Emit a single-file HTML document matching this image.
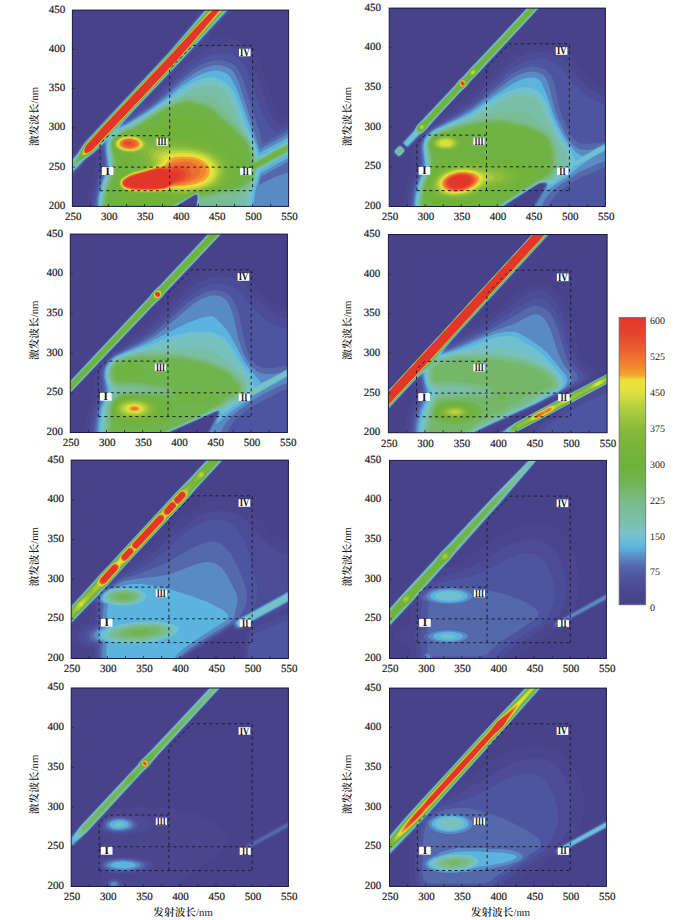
<!DOCTYPE html><html><head><meta charset="utf-8"><style>html,body{margin:0;padding:0;background:#fff;overflow:hidden;width:700px;height:920px}
svg{display:block;text-rendering:geometricPrecision}
.tl{font-family:"Liberation Serif","Noto Serif CJK SC",serif;font-size:11px;fill:#1a1a1a;stroke:#1a1a1a;stroke-width:0.2px}
.cl{font-family:"Liberation Serif","Noto Serif CJK SC",serif;font-size:10px;fill:#222}
.rl{font-family:"Liberation Serif",serif;font-size:11.2px;font-weight:bold;fill:#111;text-anchor:middle}
.al,.xl{font-family:"Liberation Serif","Noto Serif CJK SC",serif;font-size:10.7px;fill:#1a1a1a}</style></head><body><svg width="700" height="920" viewBox="0 0 700 920"><defs><clipPath id="c0"><rect width="216.2" height="196.3"/></clipPath><clipPath id="c1"><rect width="216.2" height="198.4"/></clipPath><clipPath id="c2"><rect width="217.1" height="198.4"/></clipPath><clipPath id="c3"><rect width="218.7" height="198.2"/></clipPath><clipPath id="c4"><rect width="217.2" height="198.4"/></clipPath><clipPath id="c5"><rect width="216.9" height="198.1"/></clipPath><clipPath id="c6"><rect width="217.2" height="198.5"/></clipPath><clipPath id="c7"><rect width="216.9" height="198.3"/></clipPath><filter id="sm" color-interpolation-filters="sRGB" filterUnits="userSpaceOnUse" x="-5" y="-5" width="230" height="210"><feGaussianBlur stdDeviation="0.6"/></filter><linearGradient id="cbg" x1="0" y1="1" x2="0" y2="0"><stop offset="0" stop-color="#48428a"/><stop offset="0.01667" stop-color="#49448c"/><stop offset="0.03333" stop-color="#49468e"/><stop offset="0.05" stop-color="#4a4890"/><stop offset="0.06667" stop-color="#4b4c95"/><stop offset="0.08333" stop-color="#4d519b"/><stop offset="0.1" stop-color="#4e55a0"/><stop offset="0.1167" stop-color="#515ea5"/><stop offset="0.1333" stop-color="#5468aa"/><stop offset="0.15" stop-color="#5779b7"/><stop offset="0.1667" stop-color="#5a8ac4"/><stop offset="0.1833" stop-color="#5a9fd1"/><stop offset="0.2" stop-color="#5ab4dd"/><stop offset="0.2167" stop-color="#64bbda"/><stop offset="0.2333" stop-color="#70c0d2"/><stop offset="0.25" stop-color="#7ac3c9"/><stop offset="0.2667" stop-color="#79c1bd"/><stop offset="0.2833" stop-color="#78c0b0"/><stop offset="0.3" stop-color="#79bfa7"/><stop offset="0.3167" stop-color="#7abd9e"/><stop offset="0.3333" stop-color="#7abc95"/><stop offset="0.35" stop-color="#7abb8c"/><stop offset="0.3667" stop-color="#79ba81"/><stop offset="0.3833" stop-color="#77b976"/><stop offset="0.4" stop-color="#75b769"/><stop offset="0.4167" stop-color="#72b55a"/><stop offset="0.4333" stop-color="#70b44e"/><stop offset="0.45" stop-color="#6fb348"/><stop offset="0.4667" stop-color="#6fb342"/><stop offset="0.4833" stop-color="#6eb23c"/><stop offset="0.5" stop-color="#70b23c"/><stop offset="0.5167" stop-color="#73b33c"/><stop offset="0.5333" stop-color="#75b33c"/><stop offset="0.55" stop-color="#78b43c"/><stop offset="0.5667" stop-color="#7bb53c"/><stop offset="0.5833" stop-color="#80b73c"/><stop offset="0.6" stop-color="#84b93c"/><stop offset="0.6167" stop-color="#8abc3c"/><stop offset="0.6333" stop-color="#93c03c"/><stop offset="0.65" stop-color="#9cc43c"/><stop offset="0.6667" stop-color="#a7c93d"/><stop offset="0.6833" stop-color="#b1ce3e"/><stop offset="0.7" stop-color="#bed43f"/><stop offset="0.7167" stop-color="#cdd940"/><stop offset="0.7333" stop-color="#d9de3f"/><stop offset="0.75" stop-color="#e2e13d"/><stop offset="0.7667" stop-color="#e9e23c"/><stop offset="0.7833" stop-color="#ebde3a"/><stop offset="0.8" stop-color="#f3a231"/><stop offset="0.8167" stop-color="#f19530"/><stop offset="0.8333" stop-color="#f08730"/><stop offset="0.85" stop-color="#ee7a30"/><stop offset="0.8667" stop-color="#ed6f30"/><stop offset="0.8833" stop-color="#eb6330"/><stop offset="0.9" stop-color="#e95930"/><stop offset="0.9167" stop-color="#e7502f"/><stop offset="0.9333" stop-color="#e5472e"/><stop offset="0.95" stop-color="#e5422d"/><stop offset="0.9667" stop-color="#e43e2c"/><stop offset="0.9833" stop-color="#e43a2b"/><stop offset="1" stop-color="#e3362a"/></linearGradient></defs><g transform="translate(72.4 10.1)"><g clip-path="url(#c0)"><g filter="url(#sm)"><rect x="-3" y="-3" width="222.2" height="202.3" fill="#48428a"/><path d="M95 40.1 129.7 -2 162.6 -2 141 21 137 26 135.7 29 137 29.5 150 27.7 159 28.5 168 31.6 173 34.3 177 37.3 182.8 44 187.6 53 191.7 63 201 91 206.1 102 210 106.8 218 102.4 218 198 122.4 198 122.5 193 123.3 189 123 186.6 121.7 187 104 198 13.7 198 14.4 188 15.8 180 22.8 157 22.9 148 22 147 21 147.3 14.5 152 6.4 162 -2 170.6 -2 145.7 3 141.1 9.6 132 21.4 119Z" fill="#49468e"/><path d="M131.9 -2 160.1 -2 135 25 113.5 49 76 88 71.9 93 71.7 94 76 91.1 84 84 116 51.7 125 44.4 132 40.1 137 37.9 142 36.5 152 35.5 161 37.2 166 39.3 170 41.8 176 48 180.5 56 184.5 66 194.6 96 197.8 103 201.4 109 205 113.4 208 115.9 218 110.4 218 198 123.2 198 123.3 193 124.1 188 123.9 186 123 185.6 102.8 198 18.6 198 19.4 188 20.8 180 28 157 28.2 151 27.2 142 26 141.3 25 141.8 13.4 151 5.8 160 -2 167.8 -2 148 4 142.1 10.3 133 17.5 125 95 41.9Z" fill="#4b4c95"/><path d="M96 41.8 133.1 -2 158.9 -2 114.6 46 67 96 59.9 105 61 105.1 63.1 104 77.2 94 115 59 122 53.3 129 48.8 138 44.7 147 42.9 155 43.3 163 46.2 169 51 174 59 178.4 70 188.8 101 192.4 109 197 116 201 120.5 204 122.6 218 115.2 218 198 123.7 198 124.5 187 124 185.1 123 185.1 102.2 198 21.2 198 21.8 189 23.4 180 25.4 173 29.9 161 30.8 157 30.9 151 29.2 138 27 138.8 13 150.4 5 159.4 -2 166.1 -2 149.3 4.2 143 10.3 134 15.5 128Z" fill="#4e55a0"/><path d="M134 -2 157.9 -2 114.7 45 68 94 58 105 54.1 110 53.9 111 55 111 60.4 108 78.1 96 86.6 89 110 67.8 120 59.9 127 55.4 136 51.6 144 50 152 50.6 159 53.2 162.9 56 165.5 59 168.4 64 171.3 71 186.5 120 190 133.6 192 133.2 218 119 218 198 124.1 198 124.1 193 124.9 189 124.7 186 124 184.7 121 185.8 101.8 198 23 198 23.6 189 25.5 179 27.6 172 31.5 162 32.7 157 32.9 152 31.4 136 31 135.3 29 136.1 21.6 143 12.6 150 5 158.3 -2 164.8 -2 150.4 4.9 143 11.5 133 96 42.4ZM216 154.9 216 155.1 216.8 155Z" fill="#5468aa"/><path d="M96 43 134.6 -2 157.2 -2 108.4 51 60 102 52 111 50.2 114 52 114.1 56.3 112 76.9 99 87.4 91 110 71.7 120 64.4 127 60.1 135 56.7 143 55 150 55.6 156 57.7 159.3 60 161.9 63 166.3 72 187.2 138 188 138.9 218 122.5 218 150.3 189 166.1 186.8 174 187 175 195.9 170 205 165.8 218 162 218 198 124.4 198 124.4 193 125.2 189 125 185.8 124 184.4 121.9 185 113.6 190 101.5 198 24.4 198 25.2 188 26.7 180 28.7 173 33.1 162 34.3 157 34.4 152 32.9 140 33 133.7 32 133.1 29 135.2 21 143 11.9 150 4 158.4 -2 163.6 -2 151.4 5 143.6 12 133Z" fill="#5a8ac4"/><path d="M97 42.3 135.2 -2 156.6 -2 111.7 47 54 108 48.2 115 47.8 117 51 115.9 58.6 112 77.9 100 90.2 91 108 76.7 122 67.5 130 63.7 137 61.4 143 60.5 148 60.9 153 62.7 156.1 65 159 68.8 163 76.4 167.3 87 187 143 218 126.2 218 146.7 188 163.1 183.3 180 180.4 198 124.7 198 125.4 188 125.1 185 124 184 121.5 185 113.1 190 105 195 101.2 198 25.6 198 26.3 188 28.1 179 30.3 172 34.4 162 35.5 157 35.6 152 34 140 34.2 131 31 132.8 21 142.7 12 149.4 4 157.6 -2 162.4 -2 152.3 5.2 144 12.4 133Z" fill="#5ab4dd"/><path d="M97 42.7 135.7 -2 156 -2 107.6 51 53 108.6 45.9 117 45 119.3 47 118.9 57 114 73.8 104 94.4 90 109 79.2 119 73 125 70.2 131 68.3 137 67.2 142 67.3 147 68.8 153 72.1 157.2 76 161 81.7 166.5 94 175.5 119 182.3 134 185.8 147 192 144.1 218 129.8 218 142.9 186.8 160 185.3 169 181.3 180 178.5 198 125.1 198 125.7 188 125.4 185 125 184.2 124 183.8 121 185 105 194.7 100.9 198 26.7 198 27.2 189 29.2 179 31.3 172 35.5 162 36.6 157 36.7 152 34.9 138 36.2 129 35 129 33 130.5 21 142.3 11.8 149 3 157.7 -2 161.2 -2 153.3 5.7 144 12.7 133Z" fill="#70c0d2"/><path d="M97 43.1 136.2 -2 155.6 -2 107.2 51 53 108.2 42.9 120 40.8 123 41 124 46 120.5 60.8 113 72.5 106 118 77 123 74.6 129 72.6 135 71.3 140 71.3 145 72.5 151 75.7 155 79.2 158.4 84 164 95.4 172.5 118 180.5 133 183.4 141 185 148.2 218 130.6 218 142.3 185.5 160 184.1 169 180.2 177 178.8 181 176.3 198 125.5 198 125.9 187 125.2 184 124 183.5 121 184.8 105 194.4 100.6 198 27.6 198 28.2 189 30.2 179 32.3 172 36.2 163 37.7 157 37.6 151 35.8 139 36 134 37.6 129 41 124 40 123.8 34 129 21 142 11.3 149 2 157.7 -2 160 -2 154.4 6 144.2 12.1 134 29.4 115Z" fill="#79c1bd"/><path d="M97 43.4 136.6 -2 155.1 -2 110.6 47 52 108.9 37.7 125 20.7 142 10.8 149 2 156.9 0 158 -2 158.2 -2 156.1 -1 154 6 144.7 12.3 134 29.6 115ZM135.5 75 141 75.3 146 77.1 151 80.4 155 85.1 161 96.7 168.3 115 179.3 133 182.6 142 184 149.1 185 149.2 218 131.2 218 141.7 184.3 160 183.8 166 182.9 169 177.4 178 175.6 182 173.3 198 125.9 198 126.4 188 125.5 184 124 183.3 121 184.6 105 194.2 101 197 100.3 198 28.6 198 29.1 189 31.1 179 32.9 173 37.2 163 38.5 158 38.7 152 36.8 140 36.6 135 37.5 131 40.6 126 46.9 121 62.6 113 92 94.7 109 85.4 124 77.9 130 76Z" fill="#79bfa7"/><path d="M97 43.7 137 -2 154.7 -2 107.6 50 61 99 37.2 125 20.4 142 11 148.4 4 154.7 0 156.6 -0.6 156 -0.5 155 0.4 153 6.2 145 12.6 134ZM115.2 86 125 85.3 136 85.9 141 87.4 146 90.9 157 104.3 176.5 130 181 140.3 183.1 150 184 150.3 218 131.8 218 141 183.2 160 182.5 167 180 171.9 171 182.3 161.4 191 157 198 127.6 198 127 195.8 126.6 187 125.9 184 125 183 122 183.9 112 189.7 102 195.9 100.1 198 29.5 198 30 189 32 179.1 33.9 173 38.2 163 39.4 158 39.6 152 37.3 135 38.2 131 40 127.9 43 124.8 47 121.9 64 113.3 93 95.5 108 88.4Z" fill="#7abc95"/><path d="M97 43.9 137.4 -2 154.3 -2 106.4 51 21 141.2 10 148.8 4 153.9 2 154.8 1 154.3 2.3 151 6.6 145 12.8 134 30.1 115ZM112.1 89 118 88.6 130 91.4 138 94.1 143 97.5 164 117.4 174.5 129 176.9 133 179 137.7 181.3 145 182.1 151 183 151.5 218 132.5 218 140.4 182.2 160 181.3 167 179 171.2 171 178.8 165 181.8 152.5 184 129 189.5 128 189.2 126 183.6 125 182.7 124 182.9 105 193.5 101 196.3 99.7 198 30.4 198 30.9 189 33 179.1 34.9 173 39.2 163 40.4 158 40.5 151 38 135 38.8 131 40.7 128 43 125.7 47 122.9 64 114.4 92.5 97 104 91.8Z" fill="#79ba81"/><path d="M98 43.1 137.8 -2 153.9 -2 106.1 51 21 141 10 148.3 5 152.4 2.8 153 3 151 7 145.1 13 134 30.3 115ZM111 91 117 90.4 126 92.5 136 95.5 141.6 99 166 121.7 173.7 130 178 138.2 180.2 145 181 152 182 152.7 218 133.2 218 139.7 181 160 180.4 166 178 170.4 171 176.6 165 179.7 129 187 128 186.9 126 182.9 124 182.6 104 193.7 100.8 196 99.4 198 31.5 198 32 189.1 34 179.4 36 173.1 40.4 163 41.5 158 41.5 151 38.6 135 39.1 132 40.6 129 43 126.5 46 124.3 64 115.6 93 98 103 93.7Z" fill="#75b769"/><path d="M98 43.3 138.1 -2 153.6 -2 105.9 51 20.8 141 6 150.9 4.3 151 4.9 149 13.2 134 30.4 115ZM109.8 93 115 92.1 120 92.8 134.9 97 140 100 167 124.8 173 131.3 176 136.7 178 142.2 179.2 147 180 154.3 218 133.9 218 138.9 183 158 179.6 159 179 165.4 177 169.3 171 174.7 164.8 178 129 185.4 128 185.3 126 182.3 124 182.4 104 193.2 100.1 196 99 198 32.8 198 33.2 190 35 180.7 37 174 41.4 164 42.8 158 42.5 149 39.2 135 39.6 132 41 129.4 43 127.2 46 125.1 63 117.5 94 99Z" fill="#70b44e"/><path d="M98 43.5 138.4 -2 153.2 -2 105.7 51 20.6 141 12 146.6 7 149.3 6 149.2 9.9 140 13.4 134 30.6 115ZM110 95 114 94.2 118 94.5 131.4 98 136.4 100 140 102.8 170 130.5 174 136.7 177.2 147 177.6 153 177.3 162 176.8 165 175.3 168 170 173 166.9 175 163 176.6 129 184.1 128 184.1 126 181.9 123 182.5 102 193.6 99.1 196 98.1 198 34.6 198 35 190.5 37 180.4 39 174.1 43.3 164 44.6 158 44.6 152 43.5 145 40.5 138 39.8 135 40.2 132 41.2 130 43 127.9 46 125.8 63 119.5 94.1 101ZM180 155.8 218 135 218 137.8 181 158 179.5 157Z" fill="#6fb342"/><path d="M98 43.7 138.7 -2 152.9 -2 105.5 51 20.4 141 12 146.3 8 147.4 8.7 143 13.5 134 30.8 115ZM113.7 105 120.3 106 127.1 108 131.6 110 158 129 164 134.5 168 140.8 170.7 150 171 161 170.4 165 169.2 168 166.7 171 162.3 174 150 178.2 130 182.9 128 182.9 126 181.5 124 181.9 109.1 189 97.9 193 94.5 195 91.2 198 57 198 56 190 55.4 189 51 186.6 47 182.9 44.5 179 43.9 177 43.6 174 44.4 170 46 166.9 49.6 162 49.9 160 46.9 145 42 139.2 40.5 136 40.5 133 41.2 131 44 127.7 50 124.7 55 123.5 66.3 122 78 117 99 109Z" fill="#70b23c"/><path d="M98 44 139.1 -2 152.6 -2 105.3 51 20.3 141 12 146 9 146.5 8.5 145 9 143 11.7 137 13.7 134 32.8 113ZM57.6 124 65 124.5 75 127.3 86 126.5 95 127.2 128 132.3 134 133.7 141 136.2 146 138.8 151 142.3 155 146.2 158.3 151 160.2 156 160.8 160 160.5 165 159.2 169 156.2 173 153.2 175 148 177.4 130 182 125 181.2 114.5 186 106 188.1 99 187.7 87 184.1 62 183.8 55 182.6 52 181.6 49 179.8 46.4 177 45.4 173 46.5 169 51 164.7 58 160.7 64.8 158 66.1 157 66.1 156 61 151 57.8 146 56.5 145 48 142.6 44 140.2 41.5 137 40.9 134 42.4 130 46 127 52 124.7Z" fill="#75b33c"/><path d="M98.1 44 139.4 -2 152.2 -2 105.1 51 20.1 141 12 145.7 9.3 146 8.8 145 9.3 143 11.9 137 13.9 134 30.2 116ZM53.2 125 59 124.6 65 125.5 70 127.4 77 131.3 90 130.8 120 134.2 129 135.7 138 138.6 143 141.1 147.2 144 150.4 147 153.4 151 155.3 155 156.2 159 156.2 163 154.9 168 151.6 173 149 175 144.9 177 130 181 125 180.8 115 184.9 110 185.8 103 185.6 91 182.9 80 183.2 61 182.9 52 180.6 48.2 178 46.5 175 46.5 171 48 168.3 51 165.7 57 162.3 69.6 158 72.5 156 72 154.3 67 149 64 144.3 52 142.7 48 141.6 44 139.2 42.2 137 41.6 135 41.6 133 43.1 130 47 126.9Z" fill="#7bb53c"/><path d="M98.3 44 139.7 -2 151.9 -2 105.9 50 20 140.9 14 144.6 10 145.7 9.3 144 10.2 141 12.5 136 14 134 30.3 116ZM50.8 126 59 125.1 66 126.5 70.8 129 76 134.7 77 135.1 86 133.8 95 134.2 122 136.7 130 138.3 136 140.4 141 142.9 145 145.7 148.4 149 150.5 152 152.3 156 152.9 159 152.9 163 151.9 167 149 172 146.9 174 143.5 176 134 179.2 129 180.3 125 180.4 118 183 113 184.1 106 184.1 94 181.9 80 182.6 63 182.5 53 180.4 49.1 178 47.1 175 47.1 171 49 168.1 52 165.8 58 162.5 72.5 158 74.8 157 76.8 155 76 153.1 71.4 147 70.1 143 69 142 59 142.6 53 142.2 47 140.4 43.7 138 42.2 135 42.2 133 43 131 46.1 128Z" fill="#84b93c"/><path d="M140 -2 151.6 -2 105.7 50 20 140.8 14 144.4 11 145.4 10 145.1 9.7 144 10.4 141 14 134.2 30.5 116 98.5 44ZM52.7 126 60 125.7 64 126.5 67.8 128 70.7 130 72.3 132 73.3 135 72.8 137 70 139.6 62 141.8 54 141.7 47 139.8 44.5 138 43.1 136 42.7 134 43.1 132 44.4 130 46.9 128ZM84.3 137 93 136.5 119 138.2 128 139.8 136 142.6 140.3 145 144 147.8 146.8 151 148.7 154 149.8 157 150.3 161 149.8 165 148.6 168 144.9 173 140 176 132 178.7 114 182.6 107 182.6 96 180.9 80 182.2 62 181.9 55 180.6 49.8 178 48.1 176 47.3 173 48.1 170 50 167.8 59 162.6 74.8 158 78.9 156 79.9 155 79.8 153 75.9 146 75.6 143 76.5 141 78.7 139Z" fill="#93c03c"/><path d="M98.6 44 140.3 -2 151.3 -2 105.5 50 20 140.6 15 143.7 11 145 10.1 144 10.6 141 14 134.4 30.6 116ZM50.4 127 58 126 62 126.5 66 127.8 69.5 130 71.2 132 71.9 134 71.6 136 70.1 138 68 139.4 62 141.1 55 141.3 48 139.6 44.4 137 43.4 135 43.4 133 44.3 131 46 129.2ZM92.9 139 110 139.3 121 140.2 129.3 142 136.6 145 143 149.9 146.5 155 147.5 158 147.8 162 146 168 141.8 173 136.5 176 130 178.1 115 181.2 107 181.2 97 179.9 81 181.7 62 181.5 54 179.9 49.3 177 48.1 175 47.7 173 48.6 170 50 168.3 54 165.5 60 162.6 73.5 159 81.2 156 82.4 155 83 153 80.7 146 81.3 143 83 141.3 85.8 140Z" fill="#a7c93d"/><path d="M98.8 44 140.6 -2 151 -2 105.4 50 20 140.5 14 144 11 144.4 10.5 143 10.8 141 14 134.5 30.7 116ZM52 127 59 126.5 66 128.4 68.5 130 70.2 132 70.8 134 70.4 136 67.1 139 61 140.7 54 140.7 48 139 44.5 136 44 133 45 131 47 129.1ZM99.4 141 112 141 122 142 130 144 136.3 147 142 151.9 144.8 157 145.4 160 145.3 163 143.4 168 140 172 135 175.1 128 177.4 116 179.8 107 179.9 98 178.9 81 181.3 63 181.2 54 179.5 51 177.9 49 176 48.2 174 48.5 171 49.8 169 52 167.3 61 162.6 75.1 159 83 156 85.5 154 85.4 147 86.9 144 91 142Z" fill="#bed43f"/><path d="M99 44 140.9 -2 150.7 -2 105.2 50 20 140.3 14 143.8 12 144.1 11 143.6 11 141 14 134.7 30.9 116ZM54.6 127 61 127.3 66 129 69.2 132 69.9 134 69.4 136 68 137.5 65.6 139 60 140.4 53 140.1 47.3 138 44.9 135 44.8 133 45.7 131 50 128.1ZM100.2 143 110 142.6 120 143.4 127.5 145 134 147.8 139.3 152 142.3 157 142.9 162 141.4 167 138.2 171 133.7 174 127 176.4 117 178.4 108 178.7 99 178 92 179.7 82 180.9 63 180.9 54 179.1 51 177.5 49.5 176 48.5 174 48.9 171 50.4 169 53 167 61 163 76.5 159 87.1 155 88.2 154 89.5 148 90.9 146 94.7 144Z" fill="#d9de3f"/><path d="M99 44.1 141.2 -2 150.4 -2 105.1 50 20 140.1 16 142.7 12 143.7 11.2 143 11.2 141 14 134.8 31 116ZM51.8 128 58 127.4 64 128.7 68 131.6 68.7 133 68.8 135 67.5 137 66.1 138 62 139.5 56 140 50 138.7 46.2 136 45.6 133 47.7 130ZM101.3 145 110 144.4 119 144.9 126 146.4 132.1 149 137 152.8 139.6 157 140.3 162 139 166.3 137 169.1 133.5 172 129.5 174 124 175.7 113 177.2 99 177.2 92 179.4 82 180.6 60 180.2 53 178.3 50.9 177 49.3 175 48.9 172 49.9 170 55 166.2 62 163.1 74.4 160 89 155.5 90.8 154 92.4 150 94 147.9 97 146.1Z" fill="#e9e23c"/><path d="M122 18.7 141.5 -2 150 -2 104.9 50 20 140 16 142.6 14 143.4 12 143.4 11.3 142 11.4 141 14 135 31.1 116 99 44.3ZM54.4 128 60 128.2 65.1 130 67.7 133 67.2 136 64 138.3 59 139.4 53 139 49 137.5 46.7 135 46.9 132 50 129.3ZM102.8 147 110 146.3 118 146.7 124.3 148 130 150.4 134.6 154 137 158 137.4 162 136.1 166 134 168.6 131 171 123.6 174 111.5 176 100 176.3 92 179 82 180.3 61 180 54 178.3 51.5 177 49.7 175 49.2 173 50 170.5 52 168.5 56.1 166 63 163.1 85 157.1 91.3 156 92.6 155 97 149.4 99.5 148Z" fill="#f3a231"/><path d="M122 18.9 141.8 -2 149.7 -2 104.8 50 19.9 140 16 142.4 13 143.3 12 143 11.6 141 12.5 138 14.1 135 31.3 116 98.5 45ZM52.4 129 58 128.5 63 129.8 66 132 66.7 134 66.5 135 64.8 137 61 138.5 56 138.8 51.9 138 48.5 136 47.8 135 47.6 133 49 130.8ZM105.1 149 111 148.5 117 148.8 122.6 150 127.4 152 131.3 155 133.3 158 133.8 162 132.8 165 129 169 122.8 172 110 174.8 100 175.6 93 178.5 89 179.2 80 180 62 179.8 54.1 178 52 176.9 50 174.8 49.7 172 50.8 170 54 167.6 58.9 165 85 157.5 93 156.6 99.7 151Z" fill="#f08730"/><path d="M20.5 128 142.2 -2 149.3 -2 104.6 50 19.7 140 17 141.9 14 143 12 142.5 11.8 141 13.5 136ZM51.7 130 56 129.1 61.1 130 64.3 132 65 133 65 135 62.8 137 59 138 56 138 52 137.1 50 135.8 48.9 134 49.3 132ZM104.4 152 109 151.3 114 151.5 118 152.2 122.8 154 125.7 156 127.9 159 128.2 162 127.6 164 123.8 168 117.9 171 109 173.6 101 174.6 94 177.8 90 178.7 80 179.7 62 179.4 54 177.6 51.4 176 50.1 174 50.1 172 51.3 170 54 168 60 164.9 85 158 95 157.2 101 153.3Z" fill="#ed6f30"/><path d="M30.6 117 142.6 -2 149 -2 104.5 50 19.6 140 17 141.7 14 142.7 13 142.8 12.1 142 12.4 139 14 135.4ZM55 130 60.1 131 62.4 133 62.4 135 61 136 58 136.7 55 136.6 52 135.6 50.6 134 50.8 132 52 130.9ZM104.4 155 111 155.1 114 156.3 116.2 158 118 161 118.7 164 118.2 166 116.7 168 111 171.4 101 173.8 93 177.8 82 179.2 61 178.9 53.7 177 52 176 50.5 174 50.5 172 52 169.9 56.5 167 61 164.9 85 158.3 97 158Z" fill="#e95930"/><path d="M125 16.4 142.9 -2 148.5 -2 126.1 25 105 49.3 33.7 125 19 140.4 15 142.3 13 142.5 12.4 142 12.5 139 14 135.6 30.7 117 98.9 45ZM52.9 132 56 131.2 58 132 58.6 133 58 134.2 55 134.9 52.9 134 52.4 133ZM102.2 158 107 157.9 111 160 112.6 162 113.3 164 112.8 167 111.1 169 109 170.4 102 172.5 93 177.5 81 178.9 63 178.7 54.7 177 52.8 176 51 174 51 172 52.6 170 57.4 167 62 165 85 158.7 89 158.5 97 159.3Z" fill="#e5472e"/><path d="M124 17.7 143.4 -2 148.1 -2 125.9 25 105 49.1 19.4 140 16 141.9 14 142.3 12.8 142 12.7 139 14 135.8 30.8 117 99.1 45ZM85 159 92 159.1 99 160.6 105 160.3 107 161.1 109 163 109.6 166 108.6 168 107 169.4 102 171.5 94 176.8 91 177.7 81 178.5 62 178.1 55 176.5 53 175.5 51.7 174 51.6 172 53 170.4 60.8 166Z" fill="#e43e2c"/><path d="M124 18 143.9 -2 147.5 -2 129.1 21 105 49 19.2 140 16 141.8 14 142.1 13 141.7 12.8 139 14 135.9 30.9 117 99.2 45ZM60.1 167 87 159.1 94 159.9 100 162.2 104.2 163 105.5 164 106.2 166 105 168 97.9 174 94 176.4 91 177.4 81 178 63 177.5 55.5 176 52.5 174 52.2 173 53.3 171Z" fill="#e3362a"/><path d="M124 18.2 144.8 -2 146.7 -2 128 22 104 49.9 19.1 140 15 141.8 13 141.2 12.9 139 14.1 136 31 117 99.3 45ZM84 160 90 159.6 96 161.1 101.7 165 102.4 167 101.7 169 99.6 172 97 174.2 93 176.5 90 177.2 81 177.4 62 176.2 56.2 175 54 173.5 54.1 172 55.3 171 60.7 168Z" fill="#e3362a"/></g></g><path d="M27.7 180.6 27.7 133.5 36 125.6 97.3 125.6 M27.7 157 180.2 157 M27.7 180.6 180.2 180.6 M97.3 180.6 97.3 58.9 120.4 35.3 180.2 35.3 180.2 180.6" fill="none" stroke="#1e1e28" stroke-width="1" stroke-dasharray="3 3.2"/><rect x="29.5" y="157" width="11.5" height="7.9" fill="#fff"/><text x="35.3" y="164.6" class="rl">I</text><rect x="167.8" y="157.9" width="11.1" height="7.1" fill="#fff"/><text x="173.3" y="164.7" class="rl" textLength="6.4" lengthAdjust="spacingAndGlyphs">II</text><rect x="84.2" y="128.2" width="11.1" height="7.3" fill="#fff"/><text x="89.7" y="135.2" class="rl" textLength="9" lengthAdjust="spacingAndGlyphs">III</text><rect x="166.6" y="38.6" width="11.6" height="7.6" fill="#fff"/><text x="172.4" y="45.9" class="rl" textLength="9.4" lengthAdjust="spacingAndGlyphs">IV</text><path d="M18 196.3v-2.5M36 196.3v-2.5M54.1 196.3v-2.5M72.1 196.3v-2.5M90.1 196.3v-2.5M108.1 196.3v-2.5M126.1 196.3v-2.5M144.1 196.3v-2.5M162.2 196.3v-2.5M180.2 196.3v-2.5M198.2 196.3v-2.5M0 157h2.5M0 117.8h2.5M0 78.5h2.5M0 39.3h2.5" stroke="#222" stroke-width="0.8" fill="none"/><rect x="0" y="0" width="216.2" height="196.3" fill="none" stroke="#1c1a3c" stroke-width="1"/></g><text x="73.2" y="220.3" class="tl" text-anchor="middle">250</text><text x="109.2" y="220.3" class="tl" text-anchor="middle">300</text><text x="145.3" y="220.3" class="tl" text-anchor="middle">350</text><text x="181.3" y="220.3" class="tl" text-anchor="middle">400</text><text x="217.3" y="220.3" class="tl" text-anchor="middle">450</text><text x="253.4" y="220.3" class="tl" text-anchor="middle">500</text><text x="289.4" y="220.3" class="tl" text-anchor="middle">550</text><text x="65.2" y="208.8" class="tl" text-anchor="end">200</text><text x="65.2" y="169.5" class="tl" text-anchor="end">250</text><text x="65.2" y="130.3" class="tl" text-anchor="end">300</text><text x="65.2" y="91" class="tl" text-anchor="end">350</text><text x="65.2" y="51.8" class="tl" text-anchor="end">400</text><text x="65.2" y="12.5" class="tl" text-anchor="end">450</text><text class="al" transform="translate(38.2 116.6) rotate(-90)" text-anchor="middle"><tspan font-weight="600">激发波长</tspan>/nm</text><g transform="translate(389.2 8.1)"><g clip-path="url(#c1)"><g filter="url(#sm)"><rect x="-3" y="-3" width="222.2" height="204.4" fill="#48428a"/><path d="M27.3 116 137.8 -2 153.5 -2 77.5 80 62 96 52.5 107 53 107.6 61 102 77.6 89 90.3 77 112 53.3 121 45.6 128 41.1 133 38.8 138 37.2 144 36.1 151 35.7 162 37.1 167 38.6 173 41.3 178 44.6 182.9 49 196 65.1 203.7 73 210 77.2 218 80.2 218 200 141.5 200 142.4 197 153 179.5 153.6 178 153.2 177 152 177 149.1 178 114.8 200 13.7 200 14.4 190 15.7 182 17.4 175 22.8 159 23.3 144 24.9 137 24 136.9 20 140.6 17 140.7 17.5 142 16.9 144 13 148.3 10 150.2 8 149.4 3.5 145 3.1 144 3.8 142 9 136.4 12.2 136 11.7 135 12.3 133ZM13.2 137 12.8 137 13 137.2ZM14.2 138 13.8 138 14 138.2ZM15.3 139 14.8 139 15 139.2ZM16 139.8 16 140.2 16.3 140ZM52.4 108 51.8 108 52 108.2Z" fill="#49468e"/><path d="M28.2 116 138.6 -2 152.6 -2 81 74.7 77.7 79 73 83.3 51 106.9 40.7 119 41 119.4 41.7 119 66.9 103 78.4 95 93.4 82 116 59.3 123 53.5 130 48.8 139 45 149 43.5 158 44.2 167 47.1 172.1 50 176.8 54 191.7 72 199.9 80 208 85 218 88.2 218 200 142.6 200 143.7 197 155 178 155 176.5 153 176 149.1 177 113.2 200 18.6 200 19.3 190 20.7 182 22.5 175 27 163 28 158.9 28.3 154 27.6 143 28 139 29.6 134 32.6 128 32 127.8 31 128.5 19 140 17 139.8 15 138.2 13 136 12.7 134 24 121.4ZM9.5 137 11 136.5 13 137.7 16.7 142 15.2 145 12 148.4 10 149.4 9 149.3 7 147.9 4.2 145 3.9 144 4.6 142Z" fill="#4b4c95"/><path d="M28.5 116 139.1 -2 152.1 -2 82 73.1 77.2 79 72.8 83 56 101 36.4 123 30.4 128 19 139.5 18 139.6 16 138.6 13.5 136 13.3 134 24 122.2ZM145.8 51 152 51 157 51.7 162 53.3 167 56 172.7 61 185.8 77 195 86.1 200 89.6 206 92.6 212 94.8 218 96.1 218 200 143.4 200 144.6 197 151 186.8 156 177.4 156 176 154 175.5 151 175.7 148.1 177 112.3 200 21.2 200 21.8 191 23.5 181 30.7 159 31 153.4 29.9 142 30.5 137 32.8 131 36.2 126 40 122.2 45 118.6 70.3 104 80.8 97 94.1 86 116 65.8 123 60.3 135 53.7 140 52ZM5.1 142 10 137.2 12 137.4 15 140 16.2 142 15 144.6 12 147.8 10 148.8 9 148.8 7 147.4 4.4 144Z" fill="#4e55a0"/><path d="M75 67.1 139.4 -2 151.7 -2 81 73.8 77 78.9 72.4 83 51 106 36 122.8 30 127.6 19 139 18 139.1 16 138 14 136 13.8 134 24 122.8 28.9 116 63 79.9 69.6 72ZM138.6 59 145 58.4 152 59.7 157 62.2 161.6 67 163.7 71 165.7 77 169.8 99 172 106.4 180 124.2 183 129.1 185.5 132 190 134.9 196 136 215 134.2 218 133.1 218 158.6 211.1 161 190.8 170 178.8 177 170.7 183 166 187.3 161 194 158 200 144.1 200 145 197.7 151.7 187 156.9 177 156.9 176 156 175.3 154 175 149 176 111.6 200 23 200 23.7 190 25.5 180 27.3 174 31.7 163 32.8 158 32.9 153 31.6 142 31.9 137 33.6 132 36.7 127 41 122.7 46 119.3 71 106 82.1 99 94.9 89 117 70.1 123 65.6 131 61.4ZM9.3 138 11 137.5 12 137.8 14.6 140 15.8 142 15.1 144 12 147.3 10 148.4 7.1 147 4.9 144 5.5 142Z" fill="#5468aa"/><path d="M80.5 61 139.8 -2 151.4 -2 87.5 67 81 73.5 77 78.7 72.1 83 46 111 36 122.5 30 127 19 138.3 18 138.7 16 137.5 14.5 136 14.1 135 14.4 134 24.4 123 29.2 116 66 77.1 69.8 72 75 67.4ZM138.4 64 144 63.5 149 64.5 153.8 67 157 70.7 159.7 77 164.8 99 167.8 108 176 125.6 179.9 132 183 135.9 186 138.7 190 140.9 194 141.8 200 141.9 205 141 218 133.8 218 152.3 209 155.5 190 164.2 166.7 180 161.7 184 158.2 188 154.3 194 151.8 200 145 200 152.2 188 157.2 178 157.6 176 156 174.7 151 174.9 148.4 176 111 200 24.5 200 25.1 190 26.7 181 28.4 175 32.9 164 34.2 159 34.4 153 32.9 141 33.3 136 35.1 131 37.9 127 41 123.9 46 120.4 69.2 109 81.4 102 124 69.7 131 66.2ZM9.9 138 12 138.2 14.1 140 15.4 142 14.7 144 11.9 147 10 148 7.6 147 5.3 144 5.8 142Z" fill="#5a8ac4"/><path d="M86 56 140.1 -2 151.1 -2 93 60.3 87.3 67 81 73.1 77 78.5 71.8 83 45 111.7 36 122.1 33 124.8 29.3 127 18.5 138 17.4 138 16 137 14.6 135 15 134.1 25 123.1 27.1 119 29.4 116 34 111.7 66 77.4 70 72.1 75 67.7 80.7 61ZM137.1 70 142 69.3 146 69.8 149 71.1 152 74 158 88 164.3 107 172 123.5 179 135.3 187 144.3 192 147.3 193 147.7 195 147.1 218 134.5 218 141.4 204.1 149 192 156.9 177.6 169 159 181.2 158 181.6 157.5 181 158.5 177 157.8 175 155 174.2 150 174.9 121 192.9 110.6 200 25.7 200 26.3 190 28.2 180 30.3 173 34.5 163 35.6 158 35.6 153 34 141 34.3 136 36.1 131 38.9 127 43 123.3 47 120.8 70.7 110 81 104.4 107 86.3 123 76 130.8 72ZM6.2 142 10 138.3 12 138.6 15 142 14.3 144 11.5 147 10 147.7 8 146.9 5.7 144Z" fill="#5ab4dd"/><path d="M87.2 55 140.4 -2 150.8 -2 92.9 60 87 67 80.8 73 77 78.2 71.5 83 45 111.4 35.8 122 33 124.5 29 126.4 18 137.3 16.7 137 15.4 135 25 124 27.3 119 29.6 116 34 112 66 77.7 70 72.3 75.1 68 81 61ZM128.6 80 136 79 142 79.6 148 82.4 153 87.2 156.5 93 162.6 109 169.8 124 174.8 133 183.5 146 184.9 149 186 153.3 218 135.3 218 140.4 199 151 184.3 158 181.6 162 177.5 166 163 175.8 161 176.7 160 176.6 158 174.4 156 173.9 152 174.1 149 175 121 192.6 110.2 200 26.7 200 27.3 190 29.2 180 31.4 173 35.2 164 36.6 159 36.8 154 35.1 142 35 137 36.4 132 39 128 43 124.3 48 121.3 72 111 81 106.5 104 91.4 114 85.6 121 82.3ZM9.4 139 11 138.5 12 138.9 14.7 142 14 143.9 11.1 147 10 147.3 8 146.4 6.1 144 6.6 142Z" fill="#70c0d2"/><path d="M87.5 55 140.7 -2 150.5 -2 92.6 60 86.8 67 80.5 73 77 78 72 82.1 47.9 108 35.6 122 31 125.3 26.9 126 26.4 123 26.6 121 29.8 116 34.3 112 66 78 70 72.4 75.4 68 81 61.2ZM129.3 84 137 83.4 143 84.6 149 88.3 153 92.9 160.9 111 167.8 125 180.5 147 181.5 151 181.4 155 180.1 159 178 162 172.3 167 162 173.9 160 174.3 157 173.5 154 173.6 151 174 148 175.1 120 192.9 109.8 200 27.7 200 28.2 191 30.1 180 32 174 36.2 164 37.6 159 37.7 153 36.1 142 35.9 137 37.2 132 39.9 128 44 124.5 49 121.7 73.4 112 83 107.6 103 95 112.1 90 121 86ZM9.9 139 12 139.3 14.4 142 14 143.4 11 146.6 10 147 7 145 6.4 143Z" fill="#79c1bd"/><path d="M141 -2 150.2 -2 92 60.3 86.6 67 80.2 73 76.9 78 71.8 82 45.7 110 35.4 122 31 125 29 125.1 28 124.3 26.8 122 27.7 119 29.2 117 34.6 112 66.3 78 70 72.6 75.7 68 81 61.4 87.8 55ZM127.7 88 136 87.2 141 88 146.5 91 151 96 159.6 115 177 147 177.9 151 177.7 155 176.7 158 174.7 161 168.3 167 161.8 172 160 172.8 151 173.6 148 174.8 120 192.5 109.5 200 28.6 200 29.1 191 31.1 180 32.9 174 37.2 164 38.5 159 38.7 153 36.7 137 37.5 133 40 128.9 44 125.4 49 122.6 84.9 109 92 105.4 111.5 94 120.5 90ZM9.5 140 11 139.2 14.1 142 13.9 143 10 146.6 8.6 146 6.8 144 7 142.6Z" fill="#79bfa7"/><path d="M87.2 56 141.3 -2 149.9 -2 92.9 59 86.4 67 80 72.9 76.7 78 71.5 82 42.6 113 35.2 122 31 124.6 28.5 124 27.6 123 27.3 121 29.3 117 34.9 112 66.7 78 70 72.8 76 68 81 61.6ZM119.6 103 133 103.1 138 104.3 144 108.5 156 118.9 161.7 125 164.5 130 169.3 141 171.4 150 171.3 155 170.3 159 168.4 163 165.2 167 159 171.8 151 173.2 148 174.4 118 193.5 110 198.9 109.1 200 29.6 200 30 191 32 179.7 33.7 174 38.1 164 39.5 159 39.7 153 37.4 137 38.3 133 41 128.8 44 126.3 48 124 65 117.4 93 108.6 110 104.2ZM7.3 143 11 139.6 11.9 140 13.6 142 13.3 143 10 146.2 7.2 144Z" fill="#7abc95"/><path d="M87.6 56 141.7 -2 149.5 -2 91.6 60 86.2 67 80 72.5 76.6 78 71.1 82 40.4 115 35 122 32 124 30 124.2 29 123.7 28 122.6 27.6 121 29.5 117 35.3 112 66.1 79 68 76.7 70 73 75.4 69 81 61.8ZM107.2 110 116 110.2 137 114.6 143 116.8 153 121.4 158.5 125 162.5 131 165.6 139 166.9 144 167.3 151 167 159 165.8 163 163.8 166 160.7 169 157.8 171 150 173.1 147 174.5 117 193.7 110 198.4 108.7 200 30.6 200 31 190.9 33 179.3 34.6 174 39.4 163 40.6 158 40.6 152 38.2 137 39 133 41 129.8 44 127.1 48 124.9 67 117.9 90 111.6ZM7.8 144 11 140 13.1 142 10 145.4 9 145.3Z" fill="#79ba81"/><path d="M87.9 56 142.1 -2 149.1 -2 91.2 60 86 67 80 72.1 76.5 78 70.7 82 43.7 111 38.2 117 35 121.7 32 123.8 30 123.7 29 123 28.2 122 28 120 30 116.7 36.6 111 67 78.5 70.1 73 75.8 69 81 62ZM108.6 112 116 112.3 137 116.9 153 123.7 157.8 127 161.3 133 164.2 141 165 145 164.9 159 163.8 163 161.7 166 157 170 150 172.5 146 174.6 115 194.5 110 197.8 108.2 200 31.7 200 32.1 191 34 179 36 173 40.4 163 41.7 158 41.6 151 39 137 39.8 133 41.7 130 45 127.3 49 125.4 64.2 120 74.8 117 91 113.3Z" fill="#75b769"/><path d="M88.5 56 142.6 -2 148.6 -2 91.7 59 86 66.8 79.6 72 76.3 78 70.2 82 39.5 115 35 121.5 32 123.5 29.7 123 28.7 122 28.3 120 30 116.9 36.2 112 67 78.9 70.2 73 76.3 69 81.3 62ZM107.2 114 115 114.1 136 118.5 151.4 125 156.2 128 159.4 133 162 140.2 163.1 145 163.1 159 162 162.5 160 165.4 155.8 169 147 173.2 117 192.4 109 197.9 107.5 200 33 200 33.5 190 35 179 37 173 41.6 163 43.1 157 42.5 148 39.8 137 40.1 134 42 130.7 45 128.2 49 126.2 73.1 119 91 115Z" fill="#70b44e"/><path d="M88.1 57 143.3 -2 148 -2 91.1 59 86 66.5 79 72 76.2 78 71 80.7 69.5 82 39.7 114 35 121.3 32 123.3 30 122.7 29 121.6 28.6 120 30.1 117 34.7 114 37.8 111 67.6 79 70.4 73 76.9 69 81.5 62ZM87.2 118 113 116.2 132.3 120 141.4 123 153.7 129 157 133.3 160.7 145 160.8 158 160.2 161 159 163.1 155 167 112 194.3 108 197.4 106.4 200 35.2 200 35.4 187 36.2 179 38 173.2 43.8 161 45.2 155 44.3 146 40.6 137 40.9 134 42 131.9 46 128.4 52 126.1Z" fill="#6fb342"/><path d="M84 60.3 90 57.5 87 65 84 68 78.3 71 77.2 76 76 78 74 79.3 69 80.6 68.5 80 69.2 76 70.5 73 72 71.8 77.6 70 80.2 64 81.7 62ZM38.9 112 39.6 112 37.5 115 35.1 121 32 123 30 122.1 28.8 120 30.4 117 32 115.7 37 113.6ZM58.4 126 67 126.4 71 127.7 74 129.6 76 132 76.8 134 76.5 137 75.3 139 73 141.1 69 143.4 60 145.5 52 145.3 49 144.6 45 142.4 42.8 140 41.5 137 41.7 134 43 131.7 45 129.9 49 127.8ZM69.8 150 81 149.2 104 149.5 115 150.2 123 151.4 132 154.2 139.2 158 144.2 163 144.9 165 144.8 167 141.1 172 132.4 179 123.4 184 115 187.2 98.1 190 81 195.4 69 197.6 61 197.9 54 197.5 48 196.3 43 194.4 41 193 39 190.3 37.9 187 37.4 182 37.8 178 39 174 44 164.4 48 158.4 52 154.9 59 152.2Z" fill="#70b23c"/><path d="M85.7 60 87 60.1 87.8 61 87.7 63 86.8 65 85 67 83 68.2 81 68.6 80 68.1 79.7 66 81.1 63 83 61.2ZM71.9 72 74 71.4 76 71.6 77 72.5 77.3 74 77.1 76 76 77.9 73 79.4 70.4 79 69.4 77 69.9 74ZM31.9 116 35 115.5 36.2 117 36 119 35 120.7 32 122.6 30.4 122 29.1 120 29.8 118ZM56.8 127 64 127.5 69.9 130 72 132 72.9 134 72.8 136 71.8 138 69.7 140 67 141.5 59 143.4 54 143.5 50 142.8 47 141.8 44.3 140 42.8 138 42.3 136 42.6 134 44 131.7 46.1 130 49 128.6ZM68.8 155 76 154.3 84 154.3 109 155.9 118 157.2 125 159.5 130 162.6 132.8 166 133.4 170 132.1 173 130.3 175 127 177.4 123 179.3 116 181.2 99 183.8 83 189.7 75 191.9 66 192.9 57 192.6 49 190.7 43 187.4 41 185.3 40 183.2 39.5 178 41 172.8 45 166.1 48 162.8 53 159.6 61 156.6Z" fill="#75b33c"/><path d="M82 62.2 85 60.6 86.5 61 87.2 62 87 64 85 66.7 82 68 80.4 67 80.3 65ZM72.2 72 75 71.7 76.6 73 77 74 76.9 76 76 77.7 73 79.2 71 78.7 70 77.6 69.6 76 70.1 74ZM32.7 116 35 116.5 35.8 118 35.7 119 34 121.4 32 122.3 31 122.1 29.9 121 29.7 119 30.9 117ZM54 128 61 127.9 67 129.8 70.5 133 71 135 70.4 137 68.6 139 66 140.6 60 142.3 52 142.2 46 140 43.5 137 43.3 135 44 133 45.9 131 48 129.7ZM69.6 157 76 156.4 83 156.6 115 160.2 120 161.7 123.9 164 126.4 167 126.7 170 125.8 172 124 174 119 176.7 114 178.1 99 180.8 83 187.4 74 189.9 65 190.8 57 190.3 50 188.3 45 185.2 42.4 182 41.6 177 43.1 172 46 167.6 50 164 56 160.7 62 158.5Z" fill="#7bb53c"/><path d="M82.6 62 85 61.1 86.4 62 86.8 63 85.5 66 83 67.4 82 67.3 80.7 66 81 64ZM72.7 72 75 72.1 76.8 74 76.9 75 76 77.5 75 78.4 73 79 71 78.1 69.8 76 70.9 73ZM31.3 117 33 116.3 34 116.5 35.3 118 35 120 33 121.7 31 121.4 30 120.2 29.9 119ZM52.2 129 59 128.5 65 129.9 67 131.1 68.8 133 69.2 136 66.7 139 61 141.2 55 141.6 49 140.5 45.2 138 44.3 136 44.5 134 47.2 131ZM75.2 158 85 158.5 113 162.7 116.6 164 119.6 166 120.9 168 120.9 170 119 172.6 115 174.7 100 178.2 83 185.8 73 188.6 65 189.4 57 188.6 50 186.2 45.9 183 43.8 179 43.9 175 45.5 171 49 166.9 54 163.4 60 160.7 68 158.7Z" fill="#84b93c"/><path d="M83 62 85 61.7 86 62.5 86.3 64 85 66.1 83 67 81.5 66 81.1 65 81.9 63ZM71.1 73 74 72 76 73.4 76.7 76 75.4 78 73 78.8 71 77.7 70 75ZM31.7 117 33.7 117 35 118.7 34.7 120 33 121.4 32 121.4 30.5 120 30.7 118ZM51.1 130 57 129.1 63 130.1 65 131 67.3 133 67.7 136 65 138.9 61 140.4 55 140.9 50 139.9 46.6 138 45.4 135 47.2 132ZM67.4 160 77 159.2 88 160.4 109.5 165 113.5 167 114.6 169 113.6 171 112 172.1 99 176.3 85 183.6 76 186.8 68 188.1 61 187.9 55 186.7 49.6 184 46.7 181 45.6 178 45.9 174 48.1 170 51 167 56 163.8 61 161.6Z" fill="#93c03c"/><path d="M82.4 63 84 62.1 85.5 63 85.9 64 85 65.7 83 66.4 82 65.6 81.7 64ZM71.3 73 74 72.3 76 73.8 76.5 76 75 78.2 73 78.6 70.7 77 70.2 75ZM31 118 33 117.2 34.1 118 34.3 120 33 121 32 120.8 31 119.9ZM54.6 130 59 130 63 131.1 65.7 133 66.2 134 66.2 136 65 137.5 63 138.8 58.6 140 53 139.9 48.3 138 46.8 136 46.9 134 47.6 133 50.6 131ZM67.4 161 77 160.2 86 161.3 100.8 166 104.5 168 105.1 169 103.8 171 88 180.8 82 183.8 76 185.8 69 187 62 187 56 185.8 51 183.3 48.7 181 47.3 178 47.3 175 49 171 51.7 168 56 165 61 162.7Z" fill="#a7c93d"/><path d="M82.9 63 84 62.8 85.2 64 85.1 65 84 65.8 82.5 65 82.3 64ZM71.5 73 74 72.5 75.9 74 76.4 76 75 78 73 78.4 71 77 70.3 75ZM31.7 118 33.3 118 34.1 119 33.8 120 33 120.4 31.9 120 31.3 119ZM53.7 131 59 130.9 62.5 132 64.5 134 64.5 136 62.3 138 59 139 54 139.1 50.4 138 48.4 136 48.5 134 50.8 132ZM66.8 162 76 161.1 86 162.4 95 166 97.5 168 98.1 170 96.2 173 90.2 178 84 181.8 77 184.6 71 185.9 64 186.2 58 185.3 52.8 183 50.5 181 48.9 178 48.8 175 50.5 171 53.4 168 57 165.5 62 163.3Z" fill="#bed43f"/><path d="M71.7 73 74 72.7 75.6 74 76.2 76 75 77.9 73 78.2 71 76.6 70.5 75ZM55 132 58.2 132 61.1 133 62.2 134 62.1 136 61 137 57.9 138 54.7 138 51.7 137 50.7 136 50.8 134 52 133ZM72.9 162 82 162.6 89.7 165 93.8 168 94.6 170 94.1 172 90.8 176 86 179.6 80 182.7 74 184.5 67 185.4 61 185 56 183.5 52.2 181 50.3 178 50.1 175 51.2 172 53.7 169 57 166.6 62 164.2 67 162.8Z" fill="#d9de3f"/><path d="M71.9 73 74 72.9 76 75 76 76.3 75 77.7 73 78 71 76.3 70.9 74ZM70.1 163 79 163 86.8 165 91.2 168 92.1 170 91.9 172 89.9 175 85.2 179 80 181.8 74 183.8 68 184.6 63 184.5 58 183.3 53.9 181 52.2 179 51.3 176 52 173 54.1 170 57 167.6 61 165.4Z" fill="#e9e23c"/><path d="M72.3 73 74 73.2 75.8 75 75.9 76 75 77.5 73 77.8 71.1 76 71 74ZM68.2 164 77 163.5 85 165.4 87.9 167 89.7 169 90.2 171 89.7 173 87.4 176 83.6 179 79 181.4 74 183 69 183.8 64 183.8 59 182.8 55.6 181 53.6 179 52.6 176 53.2 173 54.5 171 60 166.7Z" fill="#f3a231"/><path d="M71.2 74 73 73 74 73.4 75.5 75 75.3 77 74 77.7 72.2 77 71 75.2ZM66.8 165 75 164.1 83 165.6 85.7 167 87.8 169 88.5 171 88.1 173 86 176 83 178.4 79 180.6 74 182.4 65 183.2 61 182.5 57.3 181 55 179 53.9 177 53.8 175 55 172 59.3 168Z" fill="#f08730"/><path d="M71.5 74 73 73.2 74 73.7 75.3 75 75.2 77 74 77.5 72.6 77 71.2 75ZM70.6 165 78 165.2 83.7 167 86.7 170 86.9 172 86.1 174 83.5 177 80.6 179 76.2 181 72 182.1 67 182.6 63 182.2 59.2 181 56.4 179 55.2 177 54.9 175 56.1 172 57.9 170 63 166.9Z" fill="#ed6f30"/><path d="M71.7 74 73 73.4 74.1 74 75.1 75 75 76.9 74 77.4 72.9 77 71.4 75ZM68.3 166 75 165.5 81.5 167 83.3 168 85.1 170 85.5 172 84.8 174 83.3 176 80 178.5 73 181.2 65 181.8 59 179.9 56.9 178 56.1 176 56.3 174 57.3 172 59.2 170 62 168.2Z" fill="#e95930"/><path d="M71.9 74 73 73.7 74 74.2 75 75.4 75 76.4 74 77.2 73 76.8 71.6 75ZM66.9 167 73 166.2 79.1 167 83 169.3 84 171 83.9 173 82.9 175 80.8 177 77.5 179 74 180.3 67 181.2 61 180 59 178.7 57.6 177 57.2 175 57.8 173 61 169.6Z" fill="#e5472e"/><path d="M72.4 74 73.3 74 74.5 75 75 76 74 76.9 72 75.4ZM70.4 167 76 167.1 80 168.4 82.6 171 82.2 174 80.6 176 78 177.9 72 180.1 65 180.3 62 179.5 59.7 178 58.4 175 58.9 173 60.5 171 65 168.3Z" fill="#e43e2c"/><path d="M72.1 75 73 74.3 74.1 75 74.5 76 74 76.5 73 76.2ZM68.5 168 74 167.6 79 168.9 81.1 171 80.9 174 78 177 72 179.4 66 179.7 61.3 178 60.3 177 59.6 175 60.8 172 64 169.6Z" fill="#e3362a"/><path d="M67.4 169 72 168.3 77 169.1 79.6 171 79.9 172 79.6 174 77 176.6 73 178.4 68 179.1 64 178.4 61.8 177 61.1 176 61 174 63.3 171Z" fill="#e3362a"/></g></g><path d="M27.7 182.5 27.7 134.9 36 127 97.3 127 M27.7 158.7 180.2 158.7 M27.7 182.5 180.2 182.5 M97.3 182.5 97.3 59.5 120.4 35.7 180.2 35.7 180.2 182.5" fill="none" stroke="#1e1e28" stroke-width="1" stroke-dasharray="3 3.2"/><rect x="29.5" y="158.7" width="11.5" height="7.9" fill="#fff"/><text x="35.3" y="166.4" class="rl">I</text><rect x="167.8" y="159.6" width="11.1" height="7.2" fill="#fff"/><text x="173.3" y="166.5" class="rl" textLength="6.4" lengthAdjust="spacingAndGlyphs">II</text><rect x="84.2" y="129.6" width="11.1" height="7.4" fill="#fff"/><text x="89.7" y="136.7" class="rl" textLength="9" lengthAdjust="spacingAndGlyphs">III</text><rect x="166.6" y="39" width="11.6" height="7.7" fill="#fff"/><text x="172.4" y="46.4" class="rl" textLength="9.4" lengthAdjust="spacingAndGlyphs">IV</text><path d="M18 198.4v-2.5M36 198.4v-2.5M54.1 198.4v-2.5M72.1 198.4v-2.5M90.1 198.4v-2.5M108.1 198.4v-2.5M126.1 198.4v-2.5M144.1 198.4v-2.5M162.2 198.4v-2.5M180.2 198.4v-2.5M198.2 198.4v-2.5M0 158.7h2.5M0 119h2.5M0 79.4h2.5M0 39.7h2.5" stroke="#222" stroke-width="0.8" fill="none"/><rect x="0" y="0" width="216.2" height="198.4" fill="none" stroke="#1c1a3c" stroke-width="1"/></g><text x="390" y="220.4" class="tl" text-anchor="middle">250</text><text x="426" y="220.4" class="tl" text-anchor="middle">300</text><text x="462.1" y="220.4" class="tl" text-anchor="middle">350</text><text x="498.1" y="220.4" class="tl" text-anchor="middle">400</text><text x="534.1" y="220.4" class="tl" text-anchor="middle">450</text><text x="570.2" y="220.4" class="tl" text-anchor="middle">500</text><text x="606.2" y="220.4" class="tl" text-anchor="middle">550</text><text x="381" y="208.9" class="tl" text-anchor="end">200</text><text x="381" y="169.2" class="tl" text-anchor="end">250</text><text x="381" y="129.5" class="tl" text-anchor="end">300</text><text x="381" y="89.9" class="tl" text-anchor="end">350</text><text x="381" y="50.2" class="tl" text-anchor="end">400</text><text x="381" y="10.5" class="tl" text-anchor="end">450</text><text class="al" transform="translate(350.8 116.6) rotate(-90)" text-anchor="middle"><tspan font-weight="600">激发波长</tspan>/nm</text><g transform="translate(70.3 234.1)"><g clip-path="url(#c2)"><g filter="url(#sm)"><rect x="-3" y="-3" width="223.1" height="204.4" fill="#48428a"/><path d="M87 52 137.4 -2 154.9 -2 96 60 92.7 64 73 84 48 111 49 111 57.1 105 75.6 90 90.2 76 112 52.2 121 44.3 128 39.6 133 37.1 138 35.5 144 34.3 151 33.8 157 34.2 162 35.2 173 39.6 178 42.8 182 46.2 196 61.9 203.4 69 211 73.9 219 76.7 219 200 134.7 200 137.4 194 144 182 144 180.8 140.1 182 99.5 200 14.2 200 14.7 191 16.3 179 18.4 171 23 159 23.7 154 23.7 144 26 134.5 25 134.9 19 140.8 -2 162.8 -2 147.1 73 67 82.7 56Z" fill="#49468e"/><path d="M88 51.8 138.3 -2 153.9 -2 96 59 91.8 64 75 81 35.6 123 -2 161.9 -2 148 72 69 83.4 56ZM141.7 43 149 42.1 156 42.4 162.6 44 169 46.8 173 49.4 177 52.8 191 68.6 200 76.8 209 82.1 219 85.2 219 200 135.9 200 145.7 181 146 179.2 145 179 97.8 200 19.3 200 19.9 190 21.9 177 23.6 171 27.8 161 28.7 157 28.1 144 28.4 139 30.5 133 34.2 127 37.8 123 42 119.5 65.6 104 78.9 94 92.3 82 114 60.1 122 53.2 132 46.5 137 44.3Z" fill="#4b4c95"/><path d="M138.9 -2 153.5 -2 96 58.5 91.5 64 84 71 -2 161.5 -2 148.5 79 62 83.9 56 90 50.2ZM142.9 50 148 49.6 154 50.2 159 51.6 163.8 54 170.1 59 184 75.4 195 85.3 200 88.6 206 91.5 212 93.6 219 95.2 219 200 136.7 200 146.5 181 147.1 179 146 178.1 100.5 198 96.9 200 22.1 200 22.7 190 24.6 177 31.5 158 31.7 153 30.4 142 30.8 138 32.4 133 36.1 127 43 120.5 66.3 107 79.5 98 92.2 87 116 64.8 123 59.1 134 52.7Z" fill="#4e55a0"/><path d="M89 51.7 139.3 -2 153 -2 96 58 91.1 64 85 69.6 -2 161 -2 148.9 79 62.4 83.2 57ZM143.1 56 149 56.2 155 58.3 159.9 62 163.4 67 166.5 74 168.5 80 174 105.2 177 116.4 180 123.4 184.2 129 187 131.3 190 132.9 196 134.2 203 134 219 131.4 219 154.3 211.7 157 199.3 163 186 170.1 175.5 177 169.2 182 164 187.2 159.1 194 156 200 137.5 200 147.2 181 147.9 179 147.8 178 147 177.5 145 177.9 101.7 197 96.3 200 24.2 200 24.8 190 26.7 177 28.6 171 32.6 162 33.7 158 33.8 153 32.2 142 32.5 137 34.3 132 37.5 127 41 123.4 45 120.6 67.5 109 81.8 100 91 92.5 116 70.1 124 63.8 134 58.4Z" fill="#5468aa"/><path d="M90 51 139.7 -2 152.7 -2 96 57.7 91 63.8 85 69.2 -2 160.7 -2 149.2 78 63.8 83.5 57ZM138.8 62 145 61.2 150 62.1 154.8 65 157.9 69 160.4 74 162.8 81 168.2 105 171.7 116 176 125.1 182 133.1 186 136.6 189 138.4 193 139.6 198 140.1 209 139 219 133.7 219 148.1 211 150.9 194 159.3 187 163.5 169 176 162.8 181 157.2 187 152.5 194 149.9 200 138.4 200 148.2 180 148.6 178 148 177.1 147 176.9 101 197 95.9 200 26.1 200 26.6 191 28.5 177 30.4 171 34.5 162 35.6 158 35.7 154 33.5 142 33.8 137 35.4 132 38.7 127 42 123.8 46 121.2 68.1 111 84.1 102 93.7 95 124 69.2 131 65Z" fill="#5a8ac4"/><path d="M89.4 52 140 -2 152.3 -2 96 57.3 91 63.6 84.9 69 -2 160.4 -2 149.5 79 63.1 83.7 57ZM139.5 82 143 82.5 146 84.6 151 89.4 156 95.3 161 103.1 173.6 127 179 134.5 188.8 146 190.4 149 197 146.2 219 134.4 219 141.5 182.3 162 176.4 167 160.2 178 147 189.4 146 189.6 146 188.5 149.4 178 149 177 148 176.5 145 177.1 101 196.6 97 198.7 95.5 200 28 200 28.4 191 30.3 176 32 171 36.3 162 37.5 158 37.3 154 34.8 143 34.9 137 36.5 132 40 126.9 43 124.1 47 121.7 72.9 111 116 89.4 129 84.5Z" fill="#5ab4dd"/><path d="M89.7 52 140.3 -2 152 -2 96 57 91 63.4 84.6 69 -2 160.1 -2 149.9 79 63.4 83.9 57ZM119.6 98 131 97.4 141 98 148 100.2 154.2 104 159.4 110 171.5 129 180.8 142 183 147 183.4 150 183.1 153 184 153.4 219 135.2 219 140.5 175 165 163.4 172 152 179.8 151 180 150 177 149 176.1 146 176.3 100 196.8 96 199 95.1 200 29.8 200 31.9 176 33.1 172 38.1 162 39.4 158 39.3 155 36.6 147 35.6 140 36.7 134 40.1 128 45 123.7 52 120.5 71.1 114 98 103.3 108 100.4ZM183 153.4 182.9 154 183 154 183.1 154Z" fill="#70c0d2"/><path d="M90 52 140.6 -2 151.7 -2 95.7 57 91 63.2 84.3 69 -2 159.8 -2 150.2 79 63.7 84 57.1ZM122.5 102 134 101.7 141 102.4 148 105 153 108.8 159 116.3 177.3 143 179.4 149 179.3 153 178.3 157 179 157.3 219 136.8 219 139.1 183.1 160 163 169.4 153 176.2 152 176.6 148 175.4 145 176.3 119 188.4 100 196.5 96 198.6 94.8 200 31.7 200 33.7 175 35.1 171 41.5 158 41.3 155 37.7 147 36.6 140 37.6 134 41.1 128 44 125.4 47 123.6 58 119.5 78.2 114 103.4 106 116 103Z" fill="#79c1bd"/><path d="M140.9 -2 151.4 -2 95.4 57 91 63 84 69 -2 159.5 -2 150.5 79.1 64 84 57.3 90.3 52ZM86 115.4 117 113.3 129 114.1 138 115.5 145 118.4 162 131 173.7 144 175.8 148 176.6 152 176.3 156 174.7 160 171.5 163 161.4 168 152 174.7 148 174.9 145 175.9 119 188.1 101 195.7 96 198.2 94.4 200 33.4 200 35.2 175 37.1 170 44.3 157 43.8 155 39.5 149 37.7 142 38.2 135 41.4 129 44.6 126 48 124 62 119.4Z" fill="#79bfa7"/><path d="M90.6 52 141.3 -2 151.1 -2 95.1 57 90.9 63 83.6 69 -2 159.2 -2 150.8 79.4 64 84 57.4ZM69 119.4 93 117.9 108 118.8 120 120.4 138 124.2 151 129.6 161 135.1 172 146 173.7 149 174.5 152 174.6 155 173.9 158 171 161.5 161 166.3 152 173 145 175.3 118.3 188 100 195.8 96 197.9 94.1 200 34.9 200 36.3 186 36.4 177 37.3 173 42.1 164 48.9 156 48.5 155 44 152.4 42 150.6 39.5 146 38.7 142 38.6 138 39.5 134 41 131 43.5 128 46.2 126 50.6 124 58 121.6Z" fill="#7abc95"/><path d="M90.9 52 141.6 -2 150.7 -2 95 56.7 90.7 63 83.3 69 -2 158.8 -2 151.1 79.7 64 84 57.6ZM82 120 93 119.9 112 121.4 134 125.4 141 127.6 157 135 163.4 140 169.4 146 171.6 149 172.9 154 172.1 158 170 160.4 160 165 150 172.6 117.4 188 100 195.3 95.2 198 93.6 200 36.4 200 38.4 174 41.6 167 46 161.3 50 158.6 54 157.6 77 157 80.8 156 79.6 155 75 154 65 152.8 50 152.3 47 151.8 44 150.4 41.1 147 39.7 142 39.8 137 41.5 132 43.8 129 46.4 127 50.7 125 57 123 67 121Z" fill="#79ba81"/><path d="M142 -2 150.3 -2 95 56.3 90.6 63 83.9 68 -2 158.4 -2 151.5 79.1 65 84 57.8 91.3 52ZM73.6 122 92 121.8 109.8 123 122.5 125 139 128.8 154.9 136 160.7 140 167.8 147 170 149.9 171.1 154 170.6 157 168 159.8 158 164.3 152.8 169 148.3 172 127.1 183 97 196.3 94.4 198 93.2 200 38 200 39.3 187 39.2 178 39.7 174 43 166.8 45 164 48 161.3 52 159.6 56 159.1 80 159.1 90 158.5 96 158.8 98.4 158 98.6 157 98 156 94 154.4 79 152 67 150.7 49 150.3 45 149.1 42.8 147 41 142.1 40.9 137 42.8 132 45.5 129 50 126.5 58.2 124 65 122.7Z" fill="#75b769"/><path d="M90.8 53 142.5 -2 149.9 -2 94.9 56 90.4 63 83.5 68 -2 158.1 -2 151.9 79.6 65 84 57.9ZM61.6 125 72 124.2 93 124.1 114.6 126 135.1 130 147.5 135 157 140 167 149.7 168.3 152 168.6 155 168 156.6 166.5 158 157 162.2 150 168.9 134.8 178 119 186 97 195.5 94 197.4 92.3 200 40.3 200 40.9 189 40.7 175 43.4 168 48 162.8 53 160.7 61 160.1 89 160.8 99 162 102 161 103.2 159 102.8 156 101.2 154 99 152.6 96 151.6 68 148.5 50 148.3 47 147.6 45 146.5 43 143.1 42.3 139 43 135 44.6 132 47 129.7 50.3 128Z" fill="#70b44e"/><path d="M91.3 53 142.9 -2 149.4 -2 94.4 56 90.3 63 83 68 -2 157.5 -2 152.5 79.1 66 81.6 63 84.1 58ZM55 129 63 128.3 66.9 129 69.1 130 71.3 132 72.4 135 72.1 138 71.1 140 67.4 143 62 144.5 53 145.1 48 143.9 46.1 142 45.2 140 44.9 137 45.5 135 46.8 133 49 131.2ZM111 158.3 119 158.1 147 162 149 163 149.2 165 147.3 167 145 168 135 169.3 125 168.7 117 169 109 167.9 107 167.1 106.4 166 106.5 164 108.4 160ZM52.7 162 60 161.3 70 161.4 86 162.7 92.3 164 99.9 167 103.2 169 104.7 173 104.5 177 102.5 181 98 185.3 92 188.6 84 191.4 74 193.3 66 193.9 56 193.6 48 192.4 45 190.6 43 186.5 41.7 180 41.9 175 43.5 170 46 166.1 49 163.5Z" fill="#6fb342"/><path d="M92 53 143.7 -2 148.6 -2 94.5 55 90.2 63 88 64.6 84 66.4 82.2 68 -2 156.5 -2 153.4 79.9 66 81.5 64 84.2 58 86 56.4 90 54.6ZM53.7 163 61 162.4 70 162.5 78 163.4 85.3 165 89.7 167 92.9 170 94.3 173 94.1 177 92 180.3 88 183.5 83 185.9 77 187.7 70 188.8 62 189.1 54 188.4 48 186.9 45.1 185 43.9 183 42.9 179 43.1 174 44.6 170 47 166.6 50 164.3Z" fill="#70b23c"/><path d="M90.7 55 92.2 55 92.5 56 91.8 60 90.8 62 88 64.4 83 65.7 82.3 65 82.2 64 82.8 61 84 58.5 86 56.6ZM55 164 62 163.4 69 163.6 76 164.5 81.5 166 85.5 168 88.6 171 89.7 174 89.2 177 87 180 84 182.2 79 184.5 74 185.8 68 186.7 61 186.8 55 186.1 49 184.6 46.2 183 44.8 181 43.9 177 44.4 173 46 169.6 48.1 167 51 165.1Z" fill="#75b33c"/><path d="M87.7 56 90 55.7 91.7 57 91.3 61 90 62.8 88 64.3 86 64.9 84 64.7 82.9 63 83.3 60 85 57.5ZM53 165.7 63 164.5 69 164.8 74 165.5 79.1 167 82.8 169 85 171.2 86.2 174 85.6 177 83 180 80 181.9 71 184.6 60 185 55 184.4 50 183 47 181.1 45.6 179 45.1 176 45.9 172 47.8 169 50 167.1Z" fill="#7bb53c"/><path d="M88.9 56 90 56.2 91.5 58 91.1 61 90 62.7 88 64.1 85 64.5 83.4 63 83.1 62 83.9 59 86 56.8ZM57.9 166 68 165.8 77 167.9 80.6 170 82.5 172 83.2 174 83 176 81.9 178 79 180.3 75 182.1 70 183.3 65 183.8 59 183.5 54 182.6 50 181.1 48 179.7 46.6 177 46.4 175 47.2 172 49 169.5 51 168Z" fill="#84b93c"/><path d="M86 57 89 56.3 91 57.9 91.3 59 91 61 90 62.5 87 64.3 85 64 83.4 62 84 59ZM59.4 167 68 167 75.6 169 79.7 172 80.5 174 80.3 176 79 178 76 180 72 181.5 67 182.4 62 182.5 57 181.9 53 180.7 50 179.1 48.3 177 47.9 175 48.3 173 49.5 171 53 168.6Z" fill="#93c03c"/><path d="M86.3 57 89 56.6 91.1 59 90.3 62 89 63.3 87 64.1 85 63.6 84 62.6 83.6 61 84.2 59ZM61.1 168 68 168.2 74.2 170 77.6 173 77.7 176 76.1 178 73 179.7 65 181.3 57 180.6 53 179.1 51 177.6 50 176 49.9 174 51.8 171 55.8 169Z" fill="#a7c93d"/><path d="M86.6 57 89.1 57 90.3 58 90.9 60 89.2 63 87 63.9 85 63.2 83.8 61 84.3 59ZM57.2 170 64 169 70 169.9 74.1 172 75 173 75.4 175 74.3 177 73 178 69 179.6 63 180.2 58 179.4 54 177.7 52.1 175 52.6 173 53.4 172Z" fill="#bed43f"/><path d="M87 57 89 57.3 90.6 59 90.7 60 90 62 89 63 87 63.7 85 62.8 84 61 85 58.3ZM58.5 171 63 170.1 68 170.6 72 172.6 73 175 71.6 177 68 178.6 63 179 59 178.4 56.1 177 54.7 175 55.3 173Z" fill="#d9de3f"/><path d="M85.5 58 88 57.1 90 58.5 90.4 61 89 62.8 87 63.5 84.6 62 84.2 60ZM59.4 172 63 171.1 67 171.4 70.3 173 71 175 69.1 177 67 177.8 61 177.8 59 177 57.1 175 57.8 173Z" fill="#e9e23c"/><path d="M85.7 58 88 57.4 90 58.9 90.2 61 89 62.7 87 63.3 85 62 84.4 60ZM62.7 172 66 172.1 68 172.8 69.3 174 69.3 175 68 176.4 66 177.1 61 176.7 59.7 176 59 175 59.1 174 60 173Z" fill="#f3a231"/><path d="M85.8 58 88 57.6 90 59.5 90 61.2 88 63.1 86 62.6 84.6 61 84.9 59ZM62.2 173 66.3 173 67.7 174 67.8 175 66.7 176 65 176.5 62 176.1 60.6 175 60.7 174Z" fill="#f08730"/><path d="M86.1 58 88 57.8 90 60 89.3 62 88 62.9 86 62.3 84.9 61 85 59.2ZM62.7 174 65 173.7 65.9 174 66.1 175 65 175.4 63 175.3 62.5 175Z" fill="#ed6f30"/><path d="M86.6 58 88 58.1 89.7 60 89.1 62 88 62.7 87 62.6 85.1 61 85.3 59Z" fill="#e95930"/><path d="M85.5 59 87 58.1 88.8 59 89.5 60 89 61.9 88 62.5 86.4 62 85.1 60Z" fill="#e5472e"/><path d="M85.8 59 87 58.4 88 58.7 89.2 60 89 61.5 88 62.2 86.8 62 85.7 61 85.4 60Z" fill="#e43e2c"/><path d="M86 59 87 58.6 88 59 88.9 60 89 61.1 88 62 87 61.8 85.6 60Z" fill="#e3362a"/><path d="M86.7 59 88.5 60 88.7 61 88 61.6 87 61.4 86 60.2Z" fill="#e3362a"/></g></g><path d="M27.9 182.5 27.9 134.9 36.2 127 97.7 127 M27.9 158.7 180.9 158.7 M27.9 182.5 180.9 182.5 M97.7 182.5 97.7 59.5 120.9 35.7 180.9 35.7 180.9 182.5" fill="none" stroke="#1e1e28" stroke-width="1" stroke-dasharray="3 3.2"/><rect x="29.7" y="158.7" width="11.6" height="7.9" fill="#fff"/><text x="35.5" y="166.4" class="rl">I</text><rect x="168.5" y="159.6" width="11.1" height="7.2" fill="#fff"/><text x="174" y="166.5" class="rl" textLength="6.4" lengthAdjust="spacingAndGlyphs">II</text><rect x="84.5" y="129.6" width="11.1" height="7.4" fill="#fff"/><text x="90.1" y="136.7" class="rl" textLength="9" lengthAdjust="spacingAndGlyphs">III</text><rect x="167.3" y="39" width="11.7" height="7.7" fill="#fff"/><text x="173.1" y="46.4" class="rl" textLength="9.4" lengthAdjust="spacingAndGlyphs">IV</text><path d="M18.1 198.4v-2.5M36.2 198.4v-2.5M54.3 198.4v-2.5M72.4 198.4v-2.5M90.5 198.4v-2.5M108.5 198.4v-2.5M126.6 198.4v-2.5M144.7 198.4v-2.5M162.8 198.4v-2.5M180.9 198.4v-2.5M199 198.4v-2.5M0 158.7h2.5M0 119h2.5M0 79.4h2.5M0 39.7h2.5" stroke="#222" stroke-width="0.8" fill="none"/><rect x="0" y="0" width="217.1" height="198.4" fill="none" stroke="#1c1a3c" stroke-width="1"/></g><text x="71.1" y="446.4" class="tl" text-anchor="middle">250</text><text x="107.3" y="446.4" class="tl" text-anchor="middle">300</text><text x="143.5" y="446.4" class="tl" text-anchor="middle">350</text><text x="179.6" y="446.4" class="tl" text-anchor="middle">400</text><text x="215.8" y="446.4" class="tl" text-anchor="middle">450</text><text x="252" y="446.4" class="tl" text-anchor="middle">500</text><text x="288.2" y="446.4" class="tl" text-anchor="middle">550</text><text x="63.1" y="434.9" class="tl" text-anchor="end">200</text><text x="63.1" y="395.2" class="tl" text-anchor="end">250</text><text x="63.1" y="355.5" class="tl" text-anchor="end">300</text><text x="63.1" y="315.9" class="tl" text-anchor="end">350</text><text x="63.1" y="276.2" class="tl" text-anchor="end">400</text><text x="63.1" y="236.5" class="tl" text-anchor="end">450</text><text class="al" transform="translate(38.2 330.3) rotate(-90)" text-anchor="middle"><tspan font-weight="600">激发波长</tspan>/nm</text><g transform="translate(388.4 234.5)"><g clip-path="url(#c3)"><g filter="url(#sm)"><rect x="-3" y="-3" width="224.7" height="204.2" fill="#48428a"/><path d="M-2 157.7 145 -2 165 -2 98 71 84 86.9 81.1 91 82 91.4 83 91 94.1 84 110.1 72 132 54.5 140 49.4 146 47.6 152 47.7 159 49.8 165 53.4 172.6 61 178.2 70 183.7 86 190 112.5 192 119 196.1 126 207.8 138 208.4 141 207 143 209.3 143 220 137.3 220 200 137.9 200 139.8 196 142.8 192 142 191.9 140.8 192 125.3 200 103.8 200 148 175.4 187 155 187 154.3 146 173.6 98.3 195 88.4 200 15.4 200 15.8 192 17.4 182 19.6 174 24.7 160 25.3 156 25 153.3 24 152.9 20 156 -2 179.7ZM188 153.6 187.1 154 188.7 154ZM190 152.7 189.2 153 190.5 153ZM192 151.8 191.4 152 192.3 152ZM194 150.8 193.5 151 194.2 151ZM196 149.8 195.6 150 196.1 150ZM198 148.8 197.7 149 198.1 149ZM200 147.8 199.6 148 200.1 148ZM205 144.7 204.6 145 205.2 145ZM206 143.9 207.3 144 207 143ZM143.7 191 142.9 191 143 191.8Z" fill="#49468e"/><path d="M-2 158.1 145.1 -2 163.6 -2 81 88 70 101 68.9 103 69 103.7 71.7 103 77.8 100 97.5 89 141 57.6 147 55.5 150 55.4 154 56.2 159 58.6 163 61.7 167.8 67 171 72 174.2 79 177.5 89 184 114.2 186.5 122 190.6 129 200 139 201.1 142 200.3 144 198.1 146 193 149 152 169.4 99.7 193 85.4 200 20.1 200 20.7 191 22.5 181 29.9 159 30.1 154 29.3 148 28 147.3 27 147.8 23 151.2 -2 178ZM149 175.5 220 138 220 149.5 209.5 155 210 155.8 220 152.1 220 200 144.1 200 148 194.6 156.3 187 164 181.3 177.8 173 177 172.8 169.8 176 162 180.7 125 199.6 123.8 200 105.4 200ZM178 171.9 178 172.9 179.5 172 179 171.8ZM181 170 179.6 171 180 171.7 182.9 170ZM183 169 183 170 184.6 169 184 168.9ZM185 168 185 168.8 186.4 168 186 168ZM187 167 187 167.6 188.1 167 188 167ZM189 166 189 166.5 189.8 166ZM191 165 191 165.3 191.6 165ZM193 164 192.8 164 193.4 164ZM194 163 194 163.4 195.2 163 195 163ZM196 162 196 162.6 197.1 162 197 162ZM198 161 198 161.6 199.1 161 199 161ZM200 160 200 160.6 201.1 160 201 160ZM202 159 202 159.6 203.2 159 203 159ZM204 158 204 158.6 205.3 158 205 157.9ZM206 156.9 206 157.7 207.4 157 207 156.9ZM208 155.9 208 156.7 209.6 156 209 155.8Z" fill="#4b4c95"/><path d="M-2 158.2 145.3 -2 162.9 -2 73 96 63.9 107 62.8 109 63 109.8 70.3 107 100.2 92 140 66.2 146 64.1 152 64.4 157 66.5 161 69.4 164.4 73 167.7 78 173.4 92 182.7 124 186 130 194.7 140 195.5 142 195.2 144 193.6 146 190.8 148 173 158.1 148 170.5 98 193 83.8 200 22.8 200 23.4 191 25.3 181 27.4 174 31.4 164 32.7 159 32.9 154 31.4 145 30 144.4 29 144.9 25 148.3 -2 177.3ZM148 176.4 220 138.3 220 148.9 212 153.4 152 185.4 124 199.6 122.9 200 106.4 200 115.8 195 126 188.4ZM198.4 167 220 157.4 220 200 150.2 200 159 191.2 169.1 184Z" fill="#4e55a0"/><path d="M-2 158.4 145.4 -2 162.4 -2 75 93.1 62 108 59.1 112 58.6 114 60 114 65.1 112 107.6 92 140 73.1 146 71.3 151 71.7 155 73.2 159 76 162 79.3 165 84.1 170 96.3 178.6 125 182 131.5 188.9 140 189.6 143 188.9 145 186.3 148 181.5 152 171.5 158 147 170.3 98.9 192 82.6 200 25.1 200 25.7 191 27.5 181 29.3 175 33.8 164 35 159 35.1 154 33 142.9 32 142.1 31 142.5 26 146.6 -2 176.7ZM148 176.7 220 138.6 220 148.6 213 152.5 153 184.6 126 198.4 122 200 107.5 200 116 195.5 128 187.6Z" fill="#5468aa"/><path d="M-2 158.5 145.5 -2 161.9 -2 71 97 58.9 111 55.6 116 55.8 117 57 116.9 67.8 113 103 97.5 126.7 89 142 80.9 146 79.8 149.5 80 152.1 81 155 83.2 158 87 160 90.6 163 97.8 168.5 115 171.7 123 175.3 130 181.8 139 183.3 142 183.5 145 182.2 148 177.6 153 169.9 158 146 170.2 98 191.9 81.6 200 27.1 200 27.7 191 29.9 180 31.4 175 35.7 165 37.2 159 37.1 155 34 140.7 32 140.9 26 146.1 -2 176.3ZM219.7 139 220 148.4 216 150.6 153 184.4 128 197.2 121.1 200 108.6 200 116 196.1 119.7 193 127 188.4 147 177.4Z" fill="#5a8ac4"/><path d="M-2 158.6 145.7 -2 161.6 -2 68 99.9 56 113.9 53.4 118 53.6 119 55 119 67.8 115 91.5 105 108 98.9 119 97.1 127 97.6 132 99.5 140 104.3 153 113 158.8 118 177.5 141 178.9 144 179.1 146 177.7 150 175.3 153 171.7 156 149.2 168 98 191.4 80.6 200 29.2 200 29.8 191 32 180 33.6 175 37.9 165 39.3 159 39.3 156 36.7 148 35.1 139 34 138.9 32 140.2 27 144.7 -2 175.9ZM149 176.5 220 139.1 220 148.2 216 150.4 131 195.6 121 199.6 110.5 200 116 197.1 118.9 194 127 188.6Z" fill="#5ab4dd"/><path d="M-2 158.7 145.8 -2 161.3 -2 64 104 53.8 116 51.6 120 52 120.8 54 120.6 74.1 115 107 102.8 116 101.5 125 102.1 130.2 104 138.5 109 150.4 117 156 122 168 135 174.3 143 175.6 147 175.4 149 174.2 152 170 156 146 169 99 190.3 79.7 200 31.2 200 31.8 192 34.5 179 40.1 165 41.9 158 41.6 156 37.6 147 36.5 138 36 137.5 34 138.1 28 143.3 -2 175.6ZM149 176.7 220 139.2 220 148 219 148.6 131 195.4 122 199 119 199.1 118 198 117.8 196 118.4 195 127 188.8Z" fill="#70c0d2"/><path d="M145.9 -2 161 -2 62 105.9 51.8 118 49.9 122 52 122.3 66 118.6 96 113.5 112 112.3 123 113.5 135 117.5 144 121.3 150 124.7 160 131.4 166 137 171.6 144 173.2 148 172.4 152 170.9 154 168.3 156 157 161.7 144.4 169 99 189.7 78.7 200 33.1 200 33.8 192 37 178 45.1 157 44.1 155 40.7 151 39.1 148 38.2 144 37.8 137 37.2 136 34 137.5 28 143 -2 175.3 -2 158.9ZM148 177.4 220 139.4 220 147.8 219 148.4 152 184.5 131 195.2 122 198.6 120 198.5 119 197.5 118.6 196 119.9 194 128 188.4Z" fill="#79c1bd"/><path d="M-2 159 146 -2 160.8 -2 67 100.1 53 116 49.9 120 48.5 123 48.8 124 50 124 63 120.5 73 119 93 117.9 114 119.3 136 123.4 142 125.3 149 128.4 157 132.4 162 136 166.8 141 170.4 146 171.3 150 170.1 153 166.2 156 155 161.6 140.6 170 98 189.4 77.7 200 34.9 200 35.6 192 39.9 175 45.5 162 48 159 51.7 156 50.9 155 44 152.2 41 149.1 39.3 144 39.2 135 38 134.4 34 137 28 142.7 -2 175ZM148 177.5 220 139.6 220 147.6 152 184.3 131 195 123 198 121 198 119.9 197 119.5 196 120.5 194 128 188.6Z" fill="#79bfa7"/><path d="M-2 159.1 146.1 -2 160.6 -2 57 111 48.8 121 47 124 46.4 126 48 126.1 58.2 123 66 121.3 76 120.4 88 120.1 113 121.4 134 125.2 145 128.9 156 134.1 160 136.6 165 141.6 168.9 147 169.6 150 168.2 153 165 155.3 147.5 164 137.9 170 98 188.3 76.4 200 36.5 200 37.1 193 40.8 177 45.3 166 48 161.8 50 160.3 53 159.2 75 158.4 81.6 157 83.4 156 82.4 155 79.4 154 73.3 153 66 152.2 50 151.9 45 150.7 42.7 149 41 145.8 40.3 140 41.1 133 41 132.4 40 132.4 36 135 28 142.4 -2 174.8ZM148 177.6 220 139.7 220 147.5 152 184.2 131 194.8 124 197.4 122 197.5 121 196.8 120.5 195 121.1 194 128 188.8Z" fill="#7abc95"/><path d="M-2 159.1 146.1 -2 160.4 -2 63 104 50 118.9 42.6 129 28 142.2 -2 174.6ZM65.6 123 76 122.2 91 122 111 123.2 122.8 125 136.8 128 144.9 131 155 135.7 158.7 138 162 141 166.1 146 167.4 149 167.2 151 164 154 144.1 163 131.6 171 98 186.6 74.7 200 38.3 200 38.7 194 42.6 176 47 166.1 50 162.6 53 161.3 56 161 73 160.8 85 159.7 97 159.6 99.5 159 100.3 158 100 156.6 98.5 155 92 153 68 150.2 49 149.8 46 149.1 44 147.7 42.2 144 41.9 139 42.9 134 45 130.5 47 128.8 50.6 127 60.4 124ZM219.8 140 220 147.3 153 183.5 131 194.7 124 197 122.9 197 121.7 196 121.4 195 122.5 193 128 188.9 148 177.7Z" fill="#79ba81"/><path d="M-2 159.2 146.2 -2 160.1 -2 61 106 52 116.2 42.7 128 27 143 -2 174.3ZM72.5 125 93 124.8 111.6 126 137 130.9 144.8 134 156.8 140 162.6 146 163.6 148 163.7 150 161.7 152 153.2 156 136 161.7 129 168 101 181.5 88 189.2 78.8 196 71.3 200 40.9 200 41.3 195 42.8 188 43.6 177 47 169.6 51 164.8 54 163.6 59 163.2 86 162.6 100 163.3 103 162.3 104.8 160 105.1 157 104 154.8 101 152.3 97 150.7 91 149.6 69 147.4 50 147 47 146.2 45.7 145 44.7 142 44.9 137 46.1 134 49 131 53.1 129 59.3 127 65 125.7ZM148 177.9 220 140.1 220 147.1 151 184.5 130 194.9 125 196.4 122.9 196 122.4 195 123.1 193 128.2 189Z" fill="#75b769"/><path d="M-2 159.2 146.2 -2 159.9 -2 68 98.1 52 115.9 42.1 128 26 143.8 -2 174.1ZM149 177.5 220 140.3 220 147 212.9 151 189 163.4 151 184.3 131 194.3 126 195.9 125 196 123.5 195 123.7 193 128.6 189ZM110.7 161 112 160.4 114 160.5 117 162 117.4 163 115 164.7 111.8 165 110 164 109.7 163ZM60.8 166 75 166.2 85 168.4 89 170.3 92.3 173 93.9 176 93.5 179 91.2 182 86 185.6 81 187.8 75 189.3 68 190 60 189.7 53 188.5 48 186.8 46 184.9 44.7 181 45 177 47 172.5 49 169.9 52 167.7 56 166.5Z" fill="#70b44e"/><path d="M-2 159.3 146.3 -2 159.8 -2 66 100.1 41.7 128 26 143.6 -2 173.9ZM167 168.6 220 140.5 220 146.7 214.4 150 192 161.6 151 184.2 131 194.1 127 195.3 124.8 195 124.2 194 125 192 129 189 149 177.6ZM63.1 168 73 168.3 82 170.7 85.8 173 87.6 175 88.3 177 88.1 179 85.8 182 82 184.4 76 186.4 70 187.2 64 187.3 57 186.5 51 184.6 48 182.7 46.9 181 46.5 178 47.4 175 49 172.6 51 170.9 54 169.5Z" fill="#6fb342"/><path d="M-2 159.3 146.3 -2 159.6 -2 65 101 41.4 128 26 143.5 -2 173.8ZM209.2 146 220 140.7 220 146.5 212.4 151 190 162.4 151 184.1 130.8 194 127 195 125.3 194 125.6 192 127.7 190 147 178.8 168 168.3 196 153.5ZM59.1 170 69 169.4 78 171.1 81.9 173 84.1 175 84.9 177 84.7 179 83.3 181 80.4 183 73 185.3 64 185.8 55 184.1 52 182.9 49.5 181 48.5 179 48.5 177 50 174.1 52 172.4Z" fill="#70b23c"/><path d="M-2 159.4 146.4 -2 159.5 -2 63 103 41.1 128 26 143.3 -2 173.6ZM219.9 141 220 146.3 212.1 151 191 161.6 150.9 184 141 188.4 130.2 194 128 194.4 126.6 194 126.1 193 126.3 192 128.1 190 138 184.6 147 178.9 160.1 172 168 168.5 175.8 164 195 154.3 207.6 147ZM60.5 171 69 170.6 77 172.3 81.3 175 82.3 177 82 179 80.4 181 77 182.9 69 184.6 64 184.6 59 183.9 55 182.6 52.3 181 50.5 178 51.6 175 55 172.6Z" fill="#75b33c"/><path d="M-2 159.4 146.5 -2 159.3 -2 61 105 41.8 127 26 143.1 -2 173.4ZM208 147 220 141.3 220 146 211.7 151 191 161.3 150.7 184 140 188.6 130 193.7 128 193.7 127.2 193 127 192 128.6 190 139 184.3 148.9 178 160.4 172 168 168.7 176.2 164 197 153.6ZM61 172 68 171.6 74 172.6 78.8 175 79.6 176 80 178 79 179.9 77.7 181 72 183.1 65 183.6 58 182.4 53.7 180 53 179 52.7 177 53.9 175 55.3 174Z" fill="#7bb53c"/><path d="M-2 159.5 146.5 -2 159.2 -2 70 95 41.6 127 25 144 -2 173.3ZM208.3 147 220 141.7 220 145.6 211.4 151 192 160.4 179.3 168 170 172.5 163.3 177 150.4 184 140 188.2 130.9 193 129 193.2 128 192.2 128.2 191 129.3 190 138 185.3 149.1 178 160.7 172 169 168.5 176.6 164 196 154.5ZM61.2 173 67 172.5 73 173.4 76.3 175 77.3 176 77.9 178 76 180.4 71 182.3 65 182.7 60 181.9 56.1 180 55.2 179 54.8 177 57 174.6Z" fill="#84b93c"/><path d="M-2 159.6 146.6 -2 159 -2 68 97 41.3 127 24 144.9 -2 173.1ZM208.8 147 220 142.3 220 145.1 211 151 194 158.5 178.9 168 171 171.6 163 177 150.1 184 138 188.5 130 192.6 129 192 129 190.9 137 186.6 149.4 178 161.1 172 168 169.5 177 164 190 158.5 197 154.7ZM61.6 174 66 173.4 71.1 174 75 176 75.7 178 74 180 70 181.4 65 181.7 61 181 57.5 179 57 177 59 175Z" fill="#93c03c"/><path d="M-2 159.6 146.6 -2 158.9 -2 66 99 40.2 128 -2 173ZM214 145 217 144.3 218 144.5 218.3 145 213.8 149 208.4 152 202 153.9 201.3 153 205.8 149ZM183.3 162 185.1 162 185 163 181.5 166 176.3 169 170 171.4 161 178 147.4 185 142 186.4 139.9 186 142.4 183 147.9 179 161.5 172 169 169.6 175.7 165ZM62.5 175 66 174.5 70.2 175 72.4 176 73.2 177 73.3 178 72 179.4 69 180.4 65 180.6 62 180 60.1 179 59.4 178 59.4 177 60.3 176Z" fill="#a7c93d"/><path d="M-2 159.7 146.7 -2 158.7 -2 65 100 40.9 127 -2 172.8ZM212.4 146 215 145.8 215.3 147 213.2 149 209.8 151 206 152.3 204.1 152 204.3 151 206.5 149ZM178.7 164 181 163.5 182.2 164 180.7 166 177.6 168 173 169.5 171.7 169 173.3 167ZM162 172 166 171.1 167.5 172 166.3 174 164 176 151.5 183 146 185.2 143 185.5 142.2 185 142.9 183 146.6 180ZM64.8 176 68 176 70 177 70.2 178 68 179.1 64 179 62.5 178 62.7 177Z" fill="#bed43f"/><path d="M-2 159.7 146.7 -2 158.6 -2 64 100.9 40.8 127 -2 172.7ZM211.1 147 213.1 147 213.2 148 209 150.9 206.3 151 206.4 150 207.4 149ZM177.9 165 179.3 165 179.3 166 176.1 168 174.7 168 174.8 167ZM162.8 172 165.5 172 166.1 173 164.8 175 162.1 177 149 184 145 185 143.4 184 144.4 182 148.5 179Z" fill="#d9de3f"/><path d="M-2 159.8 146.8 -2 158.5 -2 62 103 40.6 127 -2 172.5ZM160.6 173 164 172.4 164.9 173 165 174 161.7 177 150.8 183 147 184.3 144.7 184 144.5 183 144.9 182 147.2 180Z" fill="#e9e23c"/><path d="M-2 159.8 146.8 -2 158.4 -2 61 103.9 40.4 127 -2 172.4ZM161.5 173 163.4 173 164.1 174 163.7 175 161.2 177 150 183.1 147 184 145.4 183 146.4 181 149.2 179Z" fill="#f3a231"/><path d="M-2 159.9 146.9 -2 158.2 -2 69 95.1 40.3 127 -2 172.2ZM159.7 174 162 173.5 162.9 174 163 175 160.6 177 157 178.5 151.8 182 149 183.2 146.6 183 146.4 182 148 180 156 176.4Z" fill="#f08730"/><path d="M146.9 -2 158.1 -2 40.1 127 -2 172.1 -2 160ZM158.9 175 161 174.4 161.7 175 161.2 176 159.3 177 157.1 177ZM148.7 180 154.6 178 154.8 179 152.8 181 149 182.7 147.4 182Z" fill="#ed6f30"/><path d="M147 -2 158 -2 40.9 126 -2 172 -2 160ZM149.6 180 152 179.3 152.6 180 150 181.9 149 181.7 148.7 181Z" fill="#e95930"/><path d="M-2 160.1 147 -2 157.8 -2 40.7 126 -2 171.8Z" fill="#e5472e"/><path d="M-2 160.2 147.1 -2 157.7 -2 40.6 126 -2 171.7Z" fill="#e43e2c"/><path d="M-2 160.2 147.2 -2 157.6 -2 40.5 126 -2 171.6Z" fill="#e3362a"/><path d="M-2 160.3 147.2 -2 157.5 -2 39.4 127 -2 171.4Z" fill="#e3362a"/></g></g><path d="M28.1 182.3 28.1 134.8 36.5 126.8 98.4 126.8 M28.1 158.6 182.3 158.6 M28.1 182.3 182.3 182.3 M98.4 182.3 98.4 59.5 121.7 35.7 182.3 35.7 182.3 182.3" fill="none" stroke="#1e1e28" stroke-width="1" stroke-dasharray="3 3.2"/><rect x="29.9" y="158.6" width="11.7" height="7.9" fill="#fff"/><text x="35.7" y="166.2" class="rl">I</text><rect x="169.7" y="159.4" width="11.2" height="7.2" fill="#fff"/><text x="175.3" y="166.3" class="rl" textLength="6.4" lengthAdjust="spacingAndGlyphs">II</text><rect x="85.1" y="129.5" width="11.2" height="7.4" fill="#fff"/><text x="90.8" y="136.5" class="rl" textLength="9" lengthAdjust="spacingAndGlyphs">III</text><rect x="168.5" y="39" width="11.7" height="7.7" fill="#fff"/><text x="174.4" y="46.4" class="rl" textLength="9.4" lengthAdjust="spacingAndGlyphs">IV</text><path d="M18.2 198.2v-2.5M36.5 198.2v-2.5M54.7 198.2v-2.5M72.9 198.2v-2.5M91.1 198.2v-2.5M109.4 198.2v-2.5M127.6 198.2v-2.5M145.8 198.2v-2.5M164 198.2v-2.5M182.3 198.2v-2.5M200.5 198.2v-2.5M0 158.6h2.5M0 118.9h2.5M0 79.3h2.5M0 39.6h2.5" stroke="#222" stroke-width="0.8" fill="none"/><rect x="0" y="0" width="218.7" height="198.2" fill="none" stroke="#1c1a3c" stroke-width="1"/></g><text x="389.2" y="446.6" class="tl" text-anchor="middle">250</text><text x="425.6" y="446.6" class="tl" text-anchor="middle">300</text><text x="462.1" y="446.6" class="tl" text-anchor="middle">350</text><text x="498.6" y="446.6" class="tl" text-anchor="middle">400</text><text x="535" y="446.6" class="tl" text-anchor="middle">450</text><text x="571.5" y="446.6" class="tl" text-anchor="middle">500</text><text x="607.9" y="446.6" class="tl" text-anchor="middle">550</text><text x="380.2" y="435.1" class="tl" text-anchor="end">200</text><text x="380.2" y="395.5" class="tl" text-anchor="end">250</text><text x="380.2" y="355.8" class="tl" text-anchor="end">300</text><text x="380.2" y="316.2" class="tl" text-anchor="end">350</text><text x="380.2" y="276.5" class="tl" text-anchor="end">400</text><text x="380.2" y="236.9" class="tl" text-anchor="end">450</text><text class="al" transform="translate(350.8 330.3) rotate(-90)" text-anchor="middle"><tspan font-weight="600">激发波长</tspan>/nm</text><g transform="translate(71.2 460.1)"><g clip-path="url(#c4)"><g filter="url(#sm)"><rect x="-3" y="-3" width="223.2" height="204.4" fill="#48428a"/><path d="M103.4 32 135.4 -2 155.4 -2 68 93 65.8 96 66 97 76.9 88 111 57.2 121 49.9 130 44.8 136 42.5 142 40.9 148 40 154 39.9 159 40.5 165 42.1 171 44.6 176 47.5 183.7 54 198 70 204 76 211 81.2 219 85 219 200 172.5 200 173.8 183 175.5 172 176.8 168 176 167.7 170 170.7 165 172.1 163 171.9 160 169.5 133.2 186 112.1 200 17.5 200 17.6 191 16.1 190 5 186.7 -1.2 183 -2 182.2 -2 174.1 0.7 171 5 167.6 10 164.7 18.4 161 18.9 153 20.2 147 19 146.2 17 147.7 -2 167.8 -2 146.1ZM65 96.9 65 97.3 65.9 97Z" fill="#49468e"/><path d="M100.5 36 136.4 -2 154.5 -2 54 107 48.7 114 49 114.4 50 113.9 64.9 105 75.5 98 88 87.9 111 67.5 125 57.6 133 53.7 141 51.2 149 50.2 157 50.9 165.9 54 173 58.7 177.5 63 192.6 80 201 87.6 210 93 219 96.4 219 147.7 213 149.6 191 158.4 169 169.7 164 170.3 162.1 169 161 167.3 160 167.5 123.9 190 109.7 200 22.9 200 22.9 187 16.1 185 11 182.6 8 180 6.8 177 7.6 174 10.1 171 15 167.6 23 164 23.6 163 23.9 153 24.9 146 24.5 145 22 142.5 21 142.9 -2 166.6 -2 147ZM210 155.9 219 152.7 219 200 174.5 200 175.8 183 177.8 173 180 169.6 183 167.8Z" fill="#4b4c95"/><path d="M137 -2 153.9 -2 126 28.1 116.6 39 54 106.3 43.1 119 40.9 122 41 122.5 51 116.4 70 107.6 79 102.3 92 92.4 113.8 73 125 65.2 131 62.2 136 60.5 142 59.4 148 59.3 156 61.7 160.2 64 163.9 67 169.4 74 174.6 84 178.4 96 185.9 124 186.2 129 185.8 135 184.4 143 182.7 148 183 148.8 219 129.2 219 141.8 170 168.5 167 169.2 164.3 169 161 165.3 123 189.1 114 195.3 108.2 200 25.9 200 26 185.2 19.8 183 16.2 181 14.2 179 13.2 176 13.8 174 16.2 171 20 168.4 26.5 165 26.8 152 27.8 145 25.3 142 24.7 140 24 139.8 23 140.4 18 144.9 -2 166 -2 147.5 106.5 30ZM181 175.2 219 158.8 219 200 176.5 200 177.9 183 179.7 177Z" fill="#4e55a0"/><path d="M96.6 41 137.4 -2 153.5 -2 125.7 28 115.4 40 52 108 35.2 127 33.7 129 34 129.5 39.1 127 44 123 51 119 76 110.7 94.5 103 125 85.7 134 82.4 142 81.2 146 82 150 84 155 88.3 159 92.9 165 103.3 173.5 124 175.7 133 175.6 141 173.5 148 168.3 157 169.4 157 173 155.2 219 129.9 219 141.1 170 167.8 167 168.4 165 168 163.3 166 162 162.9 123 187.6 112 195.3 107 200 28.4 200 28.8 184 20.6 180 18.7 178 18.1 176 18.5 174 21 171 29 166 29.2 152 30.2 145 30.1 144 27.1 141 27.2 137 26 137.1 21 141.5 -2 165.5 -2 148Z" fill="#5468aa"/><path d="M117.3 20 137.7 -2 153.1 -2 125 28.4 112.3 43 52 107.7 29.4 133 20 142.1 -2 165 -2 148.3 27.3 116 101.5 36ZM134.4 102 139 102 143 103 147 104.9 150 107.3 153 110.8 156 115.5 164 131 166.2 137 166.2 142 163.3 156 162.1 159 160.5 161 156.7 164 135 177.4 120 187.4 108 196.7 105.5 200 31.1 200 31.4 183 24.1 179 22.3 176 22.6 174 24 172 26.4 170 31.6 167 31.9 152 33 144 29.9 142 28.5 139 29.4 136 31.6 133 37 129.1 42.2 127 48.4 123 53.4 121 65 118.7 86 116.4 96 114.6 108 110.6 125.1 104ZM166 159.7 219 130.6 219 140.4 170 167.2 167 167.4 164.8 166 163.9 163Z" fill="#5a8ac4"/><path d="M117 20.6 138.1 -2 152.8 -2 125 28 116 38.8 54 105.2 36.4 125 -2 164.6 -2 148.7 22.6 122 27.5 116 43 99.9 105.5 32ZM59.9 124 71 123.8 84 125.8 97.5 129 120.2 136 136 142 151 149.6 154 151.7 156.1 154 156.8 156 156.6 158 155.2 160 152.6 162 128 177.4 112 188.5 105.3 195 102.5 200 35.1 200 35.4 182 28.5 179 26.2 176 26.3 174 27.7 172 30.1 170 35.7 167 35.9 152 36.8 145 36.3 144 33 142.5 31.1 141 30.1 139 30.3 137 33.1 133 39 129.2 54 124.9ZM166.9 160 219 131.3 219 139.7 170 166.4 167 166.3 165.8 165 165 163 165.2 162Z" fill="#5ab4dd"/><path d="M126 10.8 138.4 -2 152.4 -2 134.4 18 125 27.6 116 38.5 53 105.9 37.9 123 -2 164.2 -2 149.1 22.9 122 27.7 116 45 98 49.1 93 106.6 31 117 21ZM46.5 128 57 127.7 67 129.7 73.1 133 74.6 135 74.6 138 71.9 141 67 143.3 56 145.4 48 145.4 41 144.3 36 142.7 33 140.9 31.8 139 31.8 137 34.6 133 40 129.7ZM167 160.9 219 132.2 219 138.9 171 165 169 165.8 167 164.4 166.3 162ZM62.9 162 80 161.1 95 162.4 101 163.8 105 165.6 107.5 168 107.8 170 106.8 172 104.5 174 101 176 95 178.3 83 181.3 67 183.1 54 183.3 43 182.2 34 179.6 31.4 178 29.9 176 29.9 174 31.2 172 37.5 168 47 164.8Z" fill="#70c0d2"/><path d="M126.1 11 138.8 -2 152.1 -2 134.2 18 125 27.3 116 38.3 65.7 92 57.9 101 53 105.7 36.8 124 -2 163.8 -2 149.4 23 122.2 28.9 115 45 98.3 49.3 93 88.8 51 106.8 31 117.3 21ZM45.5 129 55 128.5 64.6 130 70.9 133 72.5 135 72.8 137 70.9 140 67.4 142 62 143.6 56 144.5 49 144.5 43 143.8 37.1 142 34.2 140 33.5 139 33.3 137 35 134 39.2 131ZM176.1 158 219 133.7 219 137.3 217.9 138 170 163 169.7 162ZM62.9 163 78 162.1 92 163.2 97 164.3 101.4 166 103.7 168 104.3 170 103.3 172 101 174 94 177.3 83 180.1 70 181.9 57 182.3 46 181.3 37.3 179 35 177.6 33.6 176 33.4 174 34.6 172 40 168.6 50 165.3Z" fill="#79c1bd"/><path d="M126.4 11 139.1 -2 151.7 -2 137 14 133.9 18 124.9 27 116 38.1 97 58 68 89.8 65.5 92 57.7 101 53 105.4 36.6 124 -2 163.4 -2 149.7 -1.4 149 23 122.5 28 116.2 45 98.5 49.5 93 58 84.4 59.7 82 85 54.7 89 51 101.5 37 108 30 117.7 21ZM44.9 130 54 129.3 63 130.6 68.5 133 70.4 135 70.7 137 69.6 139 66.8 141 62 142.7 56 143.6 50 143.7 44 143.1 40 142 36.3 140 35 138 35.2 136 36 134.8 39.4 132ZM63 164 77 163.1 89.2 164 93.9 165 98 166.6 99.8 168 100.7 170 98.8 173 92 176.5 83 179 71 180.8 59 181.3 49 180.5 42 178.9 39 177.4 37.4 176 36.9 175 37.3 173 39.3 171 42.8 169 51.8 166Z" fill="#79bfa7"/><path d="M130.1 8 139.5 -2 151.4 -2 137 13.6 133.6 18 124.6 27 115.9 38 100.1 55 96.8 58 93.7 62 67.7 90 65.3 92 57.5 101 53 105.1 36.4 124 30.9 129 13 148.1 -2 163 -2 150.1 0.6 147 23 122.8 28 116.4 40 103.4 44 99.9 49.7 93 58 84.7 59.9 82 85 54.9 89 51.3 92 47.4 107.2 31 118 21 126.6 11ZM44.7 131 52 130.1 60.6 131 64 132.1 67 133.8 68.1 135 68.5 137 67.2 139 65.9 140 60 142.1 52 142.9 43.8 142 38.7 140 37.6 139 36.8 137 37.6 135 39 133.6ZM63.6 165 76 164.2 87 165 91.3 166 95 167.6 96.5 169 96.7 171 93.6 174 86.2 177 77 179 68 180 58 180.1 49 179.1 43 177.1 40.9 175 40.7 174 41.8 172 46.8 169 54 166.7Z" fill="#7abc95"/><path d="M130.5 8 139.9 -2 151 -2 137 13.2 133.4 18 124.2 27 118.4 34 115.7 38 100 55 96.5 58 93.5 62 67.5 90 65.1 92 57.3 101 52.8 105 48.1 111 36.1 124 30.5 129 12.8 148 -2 162.5 -2 150.5 1.8 146 23.1 123 28 116.5 40 103.6 44.1 100 49.9 93 58 84.9 60 82.1 85.1 55 89 51.5 92 47.6 107.4 31 118.4 21 126.9 11ZM45.2 132 52 131.1 59.9 132 64.4 134 65.5 135 66 137 64 139.3 59 141.2 52 141.9 45 141.1 40.2 139 39 137 39.8 135 40.9 134ZM65.3 166 76 165.5 85 166.3 90.5 168 91.8 169 92.5 171 91 172.9 89.3 174 84.4 176 77 177.7 70 178.6 62 179 54 178.4 48.3 177 45.4 175 45.3 173 49 170 55 167.9Z" fill="#79ba81"/><path d="M130.9 8 140.3 -2 150.5 -2 136.8 13 133.1 18 124 26.8 118.1 34 115.6 38 107.6 46 100 54.8 96.3 58 93.3 62 67.3 90 65 91.8 63.6 94 57.1 101 52.6 105 47.9 111 36 123.9 30.2 129 12.5 148 -2 162 -2 150.9 2.9 145 23.4 123 28 116.7 40 103.8 44.4 100 49.1 94 55.6 87 58.2 85 60 82.3 85.3 55 89 51.7 92 47.8 100 39.7 107.6 31 112 27.6 118.8 21 127 11.2ZM46.7 133 52 132.3 58.1 133 62.2 135 62.8 137 60.8 139 57 140.2 52 140.7 46.2 140 43.7 139 41.9 137 42.7 135ZM71.4 167 78 167.2 83.2 168 85.7 169 86.9 170 87.2 171 85.7 173 81.4 175 70 177.2 57.2 177 53.1 176 50.4 174 50.4 173 52.5 171 57 169.2 63 167.8Z" fill="#75b769"/><path d="M131 8.4 140.8 -2 150.1 -2 136.3 13 133 17.8 124 26.3 118 33.8 115.4 38 107.3 46 106.1 48 100 54.6 96 58 93.1 62 67.1 90 65 91.4 63.4 94 57 101 52.3 105 47.7 111 36 123.7 30 128.9 12 148.3 -2 161.4 -2 151.3 5.8 142 23.7 123 28 116.9 40 104 46.5 98 49.3 94 55.8 87 58.4 85 60 82.4 85.5 55 89 52 92 48 100 39.9 107.7 31 112 27.9 119 21.2 127 11.5ZM48.6 135 52 134.5 55 134.7 57.5 136 57.5 137 56.1 138 54 138.5 49 138.2 47 137 47.1 136ZM65.4 170 75 169.8 78.1 171 78.2 172 74.1 174 68 174.8 62 174.5 60.3 174 59.3 173 59.8 172 61.6 171Z" fill="#70b44e"/><path d="M131 8.9 141.3 -2 149.5 -2 136 12.9 133.5 17 123.8 26 118 33.4 115.2 38 109 44.7 107.1 46 105.9 48 100 54.4 96 57.8 93 61.9 67 90 65 91.1 63.3 94 57 100.8 51.2 106 47.5 111 36 123.6 30 128.5 9 151 -2 160.7 -2 151.8 6 142 24 123 28.1 117 40.2 104 46.8 98 49.5 94 56 87 58.6 85 60 82.6 85.6 55 89.2 52 92.1 48 100.2 40 107.9 31 112.2 28 118.8 22 127 11.8Z" fill="#6fb342"/><path d="M142 -2 148.9 -2 136 12.2 133.2 17 123.3 26 118 33 115 38 109 44.5 107 45.9 105.8 48 100 54.2 96 57.5 93 61.8 67 89.8 64.8 91 63.1 94 57 100.6 52.7 104 47.4 111 36 123.4 30 128.2 8 151.6 2 156.9 -2 159.7 -2 152.4 -1 151 6.3 142 24 123.4 28.3 117 40.4 104 44.2 101 47 98 49.6 94 56 87.1 58.8 85 60 82.8 85.8 55 89.5 52 92.3 48 98.9 41 100.4 40 102 37.6 108 31.1 112.6 28 119.4 22 127.1 12 131.5 9Z" fill="#70b23c"/><path d="M132 9.3 143.1 -2 147.7 -2 135.3 12 132.9 17 123 25.4 117.6 33 115 37.9 109 44.3 107 45.7 105.6 48 99.1 55 96 57.3 93 61.6 67 89.6 64.6 91 62.9 94 57 100.4 52.4 104 47.2 111 35.2 124 29.8 128 12.4 147 7 152.1 1 157 -2 158.2 -2 153.3 0.9 149 6.6 142 16 132.7 24 123.8 28.5 117 40.5 104 45.5 100 49.8 94 56 87.3 59 85.1 60 83 86 55 89.8 52 92.5 48 99 41.1 100.7 40 102 37.7 108 31.3 113 28 120 22.1 127.4 12Z" fill="#75b33c"/><path d="M129.3 11 131 10.3 133.8 11 134.2 13 133.2 16 122 25 115 37.7 109 44.1 107 45.4 105.4 48 99 54.9 96 57.1 93 61.4 67 89.4 64.4 91 62.7 94 57 100.2 50.3 106 47 111 35 124 29.3 128 20.6 137 12.1 147 7 151.7 1 156.1 -1 155.9 -1.5 155 -1.1 153 2.9 147 7 141.9 16.3 133 24.2 124 28.6 117 40.7 104 46.7 99 50 94 56 87.5 59 85.4 60.2 83 86 55.2 90 52.1 92.7 48 99 41.2 101 40 101.9 38 108 31.5 113 28.4 118 24.5 121 23 122.2 20 127 13Z" fill="#7bb53c"/><path d="M130.6 11 132 11.2 133.5 13 132.9 16 126 21.2 124 21.4 123.5 20 123.8 19 126.7 14 128.1 12ZM116.9 26 119 25.5 120.1 27 115 37.5 108.9 44 107 45.2 105.2 48 99 54.7 95.7 57 93 61.2 67 89.2 64.2 91 62.6 94 57 100 51.8 104 47 110.8 35 123.8 29 127.8 20.1 137 12 146.7 8 150.3 3 154 0.8 154 0.2 153 0.8 151 4.1 146 7.3 142 16.9 133 24.7 124 28.8 117 40.9 104 45.2 101 50.2 94 56 87.7 59 85.8 60.4 83 86 55.4 90 52.4 92.8 48 99 41.4 101 40.2 102.1 38 108 31.7Z" fill="#84b93c"/><path d="M128.9 12 130 11.6 131.6 12 132.6 13 132.9 15 131 17.3 127 19.1 126 18.5 125.9 17 127.2 14ZM110 30.3 117 27.5 118.2 29 115 37.3 108.7 44 107 45 105.1 48 99 54.5 95.3 57 93 61 67 89 64 91 62.4 94 56.8 100 51.4 104 49.6 106 47 110.6 35 123.6 32 125.9 29 127.2 20 136.1 12.2 146 9 149 5 152 3 152.4 2.4 152 1.9 151 2.2 150 6 144 17.8 133 25 124.4 26.9 120 29 117 41 104.1 45 101.6 46.5 100 50.3 94 56 87.9 59.1 86 60.5 83 86 55.6 90 52.7 93 48 99 41.6 101 40.5 102.3 38 108 31.9Z" fill="#93c03c"/><path d="M128.3 13 130 12.3 131 12.6 132.2 14 132.1 16 130 17.2 128 16.8 127.5 15ZM111 30 115 29.6 116 30.2 116.3 34 115 37.1 108.5 44 106.5 45 105 47.9 99 54.3 95 56.9 92.8 61 66.8 89 64 90.2 63 93 56.6 100 51.9 103 49.3 106 47.3 110 35 123.4 31 126.2 28.2 127 23 131.7 22 132.3 21.3 132 21.9 130 25.5 125 26.6 121 29 117.2 41 104.3 45 102 47.8 99 50.5 94 56.1 88 59.5 86 60.7 83 86 55.8 90 52.9 93 48.2 99 41.8 101 40.7 102.5 38 108.1 32ZM16 136 17.1 136 17.8 137 17.4 138 11.7 146 7 149.8 5 150.5 4.1 150 4 148 7.3 143 13 137.9Z" fill="#a7c93d"/><path d="M128.9 13 130 13 131.2 14 131.7 15 131 16 130 16.1 129 15.4ZM111.8 30 114 30.4 116 32.9 115.8 35 114.9 37 108.3 44 106 45 105 47.6 99 54.1 95 56.6 92.6 61 66.6 89 63.8 90 62.8 93 56.4 100 50.4 104 49 105.8 47.2 110 35 123.2 31 125.9 29 126.2 28 125.8 26.5 124 26.3 123 26.8 121 29 117.4 41 104.5 45.6 102 48 99.4 49.3 96 50.7 94 56.3 88 59.9 86 60.2 84 60.9 83 86 56 90.5 53 93 48.4 99 42 101 40.9 102.7 38 108.3 32ZM7.8 143 13 139.3 14 139.4 14.5 140 13.9 142 11.9 145 8 148.1 6.2 148 6.1 146Z" fill="#bed43f"/><path d="M109.7 31 113 30.4 115 31.8 115.8 34 114.7 37 108.1 44 106 44.7 105 47.4 98.9 54 95 56.2 92.4 61 66.4 89 63.4 90 62.6 93 56.2 100 50.7 103 48.9 105 47 110 35 123 31 125.6 29 125.7 28 125.1 27 124 26.8 122 29 117.6 41 104.7 46.3 102 48.1 100 50 95 56.5 88 60 86.4 60.4 84 61 83.1 86.2 56 88 54.5 91 53.2 93 48.7 99.2 42 101.6 41 102.9 38ZM9 143 11 142.7 11.3 144 11 145 9 146 8 145Z" fill="#d9de3f"/><path d="M110.1 31 113 30.7 115 32.4 115.5 34 114.5 37 108 43.9 106 44.5 105 47.2 98.7 54 96 55.6 94 56 93.8 58 92.2 61 66.2 89 63.1 90 62.4 93 56 100 53 101.7 51 101.7 49.5 101 49 98 50.2 95 57 87.8 60 87 61 83.4 87 55.4 91 53.6 93 48.9 99.4 42 102 41.2 103 38.1ZM47.6 103 49 101.4 49.4 102 48 103.8 47.9 108 46.8 110 44 113 34 123.7 30 125.4 28 124.3 27.1 122 29 117.8 41 104.9 44 103.2Z" fill="#e9e23c"/><path d="M110.7 31 113 31.1 115 33 115.2 35 114.2 37 108 43.7 105 44 105 47 98.4 54 96 55.3 94 55.4 93.5 56 93.2 59 92 61 66 89 62.4 89 62.9 91 62.2 93 56 99.8 53 101.4 51 101 50 100.2 49.3 98 50.4 95 57 87.9 59 87.3 61 87.4 60.5 85 61 83.6 87 55.6 90 54.1 92 54.4 92.4 54 91.9 52 93.1 49 99.7 42 102 41.5 103 38.3 109 31.9ZM62 87.9 61.7 88 62 88.3ZM93.4 55 92.7 55 93 55.3ZM42.6 104 45 103.3 47.5 105 47.9 107 47 109.4 34 123.5 31 124.9 29 124.5 27.7 123 27.5 122 29 118.1 41 105.1Z" fill="#f3a231"/><path d="M109.1 32 112 31.1 114 32.4 115 34 114 37 108 43.4 104.7 44 105.1 45 104.7 47 98.2 54 96 55 94 54.8 92.3 53 92.2 52 93.3 49 99.9 42 103 42.2 102.7 39ZM104.2 43 103.8 43 104 43.2ZM88.3 55 91 54.5 92.9 56 93.3 58 92 60.7 66 88.8 64.2 89 63 88.5 60.8 86 61 83.8 86.8 56ZM57.3 88 59 87.5 61 88.3 62.4 90 62.5 92 62 93.1 55.5 100 54 100.8 52 101 49.8 99 50.1 96ZM43.1 104 45 103.7 47 105.1 47.6 107 47 109 34 123.3 31 124.5 29.3 124 27.9 122 29 118.4 41 105.4Z" fill="#f08730"/><path d="M109.5 32 111 31.4 113.1 32 114.6 34 114.5 36 108 43.2 106 43.7 103 41.2 102.9 39ZM100.8 42 103 42.6 104.3 44 104.9 46 104.5 47 98 53.9 96 54.7 94 54.2 92.6 52 93 49.9 99.1 43ZM88.8 55 91 54.9 92.9 57 92 60.5 66 88.5 65 88.9 63 88.2 61 86 61.1 84 87 56.1ZM57.8 88 60 88 61.3 89 62.4 91 62 92.7 55.2 100 53 100.7 52 100.5 50 98.4 50.3 96ZM41.7 105 44 104 46 104.8 47.3 107 46.8 109 34.1 123 32 124 30 123.9 28.4 122 29 118.8Z" fill="#ed6f30"/><path d="M109.8 32 112 31.8 113 32.4 114.3 34 114.3 36 107.9 43 106 43.4 103.2 41 103.1 39ZM99.4 43 101 42.2 102 42.4 104 44 104.7 46 98 53.6 95 54.3 93 52.3 93.2 50ZM87.4 56 90 55.1 91.6 56 92.6 58 92 60.2 66 88.2 65 88.7 63 87.9 61.3 86 61.4 84ZM50.5 96 58 88.1 60 88.4 61.7 90 62 92.2 55 99.9 53 100.4 52 100 50.3 98ZM41.9 105 44 104.4 45.5 105 46.9 107 46.6 109 34 122.8 32 123.7 30 123.2 28.7 121 29.1 119Z" fill="#e95930"/><path d="M110.5 32 112 32.2 113.1 33 114 34.2 114.1 36 107.6 43 106 43.2 103.5 41 103.5 39 109 33ZM99.7 43 101 42.4 102 42.7 104 44.5 104.5 46 98 53.3 96 54 95 53.8 93.4 52 93.5 50ZM87.7 56 90 55.6 91 56.1 92.3 58 91.9 60 65.9 88 65 88.5 63 87.6 61.5 86 61.2 85 61.7 84ZM50.8 96 58 88.4 60 88.8 61.3 90 61.8 92 55.7 99 53 100 50.7 98ZM42.5 105 44 104.8 46 106 46.5 107 46.3 109 34 122.4 32 123.3 30.6 123 29 121 29.4 119Z" fill="#e5472e"/><path d="M109.4 33 111 32.2 112 32.6 113.5 34 113.7 36 107.2 43 106 42.9 104 41.3 103.4 40 103.8 39ZM100.1 43 101 42.6 102.1 43 104 44.9 104.3 46 98 53 96 53.6 93.9 52 93.7 50ZM88.3 56 90 56 91.3 57 91.9 58 91.5 60 65.5 88 64 88 63 87.3 61.8 86 61.5 85 62 84ZM57.4 89 59 88.7 60 89.2 61.5 91 61.5 92 55.3 99 53 99.5 51.2 98 51 96ZM41.6 106 43 105.1 45 105.7 46.1 107 46.1 109 34 122.1 32 122.9 31 122.6 29.6 121 29.7 119Z" fill="#e43e2c"/><path d="M109.8 33 111 32.6 112 33 113.6 35 113.3 36 107 42.7 106 42.6 103.7 40ZM100.7 43 102.9 44 104.1 46 98 52.6 97 53.3 96 53.2 94.5 52 94 50ZM87.5 57 89 56.2 90.6 57 91.6 59 91.1 60 65.1 88 63 87 62 85.9 62 84.5ZM57.8 89 59 89 60 89.7 61.1 91 61.3 92 55 99 53 99.1 51.8 98 51.4 96ZM42 106 43 105.5 44.6 106 46 108 45.7 109 33.7 122 32 122.5 31.1 122 30 120.8 30 118.9Z" fill="#e3362a"/><path d="M110.5 33 112.6 34 113.2 35 113 35.8 107.3 42 106 42.3 104.5 41 104 39.8ZM94.5 50 101 43.3 102 43.6 103.4 45 103.5 46 98 52 97 52.9 96 52.7 94.4 51ZM88 57 89 56.6 90 57.1 91 58.2 91 59.5 65 87.5 63.4 87 62 85ZM51.8 96 58 89.4 59 89.4 60.7 91 60.9 92 55 98.3 54 98.9 53 98.5 51.7 97ZM42.6 106 43.7 106 45 107 45.5 108 45.2 109 33.1 122 32 122 30.2 120 30.5 119Z" fill="#e3362a"/></g></g><path d="M27.9 182.5 27.9 134.9 36.2 127 97.7 127 M27.9 158.7 181 158.7 M27.9 182.5 181 182.5 M97.7 182.5 97.7 59.5 120.9 35.7 181 35.7 181 182.5" fill="none" stroke="#1e1e28" stroke-width="1" stroke-dasharray="3 3.2"/><rect x="29.7" y="158.7" width="11.6" height="7.9" fill="#fff"/><text x="35.5" y="166.4" class="rl">I</text><rect x="168.5" y="159.6" width="11.1" height="7.2" fill="#fff"/><text x="174.1" y="166.5" class="rl" textLength="6.4" lengthAdjust="spacingAndGlyphs">II</text><rect x="84.6" y="129.6" width="11.1" height="7.4" fill="#fff"/><text x="90.1" y="136.7" class="rl" textLength="9" lengthAdjust="spacingAndGlyphs">III</text><rect x="167.4" y="39" width="11.7" height="7.7" fill="#fff"/><text x="173.2" y="46.4" class="rl" textLength="9.4" lengthAdjust="spacingAndGlyphs">IV</text><path d="M18.1 198.4v-2.5M36.2 198.4v-2.5M54.3 198.4v-2.5M72.4 198.4v-2.5M90.5 198.4v-2.5M108.6 198.4v-2.5M126.7 198.4v-2.5M144.8 198.4v-2.5M162.9 198.4v-2.5M181 198.4v-2.5M199.1 198.4v-2.5M0 158.7h2.5M0 119h2.5M0 79.4h2.5M0 39.7h2.5" stroke="#222" stroke-width="0.8" fill="none"/><rect x="0" y="0" width="217.2" height="198.4" fill="none" stroke="#1c1a3c" stroke-width="1"/></g><text x="72" y="672.4" class="tl" text-anchor="middle">250</text><text x="108.2" y="672.4" class="tl" text-anchor="middle">300</text><text x="144.4" y="672.4" class="tl" text-anchor="middle">350</text><text x="180.6" y="672.4" class="tl" text-anchor="middle">400</text><text x="216.8" y="672.4" class="tl" text-anchor="middle">450</text><text x="253" y="672.4" class="tl" text-anchor="middle">500</text><text x="289.2" y="672.4" class="tl" text-anchor="middle">550</text><text x="64" y="660.9" class="tl" text-anchor="end">200</text><text x="64" y="621.2" class="tl" text-anchor="end">250</text><text x="64" y="581.5" class="tl" text-anchor="end">300</text><text x="64" y="541.9" class="tl" text-anchor="end">350</text><text x="64" y="502.2" class="tl" text-anchor="end">400</text><text x="64" y="462.5" class="tl" text-anchor="end">450</text><text class="al" transform="translate(38.2 556.8) rotate(-90)" text-anchor="middle"><tspan font-weight="600">激发波长</tspan>/nm</text><g transform="translate(389.5 460.4)"><g clip-path="url(#c5)"><g filter="url(#sm)"><rect x="-3" y="-3" width="222.9" height="204.1" fill="#48428a"/><path d="M102.7 35 138.8 -2 150.9 -2 111.4 44 72 88.1 55.1 108 56 108.4 57 107.9 74 99 88 90 110 74.7 122 68.2 131 64.9 139 63.2 147 62.6 155 63.4 160 64.8 165 67.2 169 69.7 173 73.2 176.3 77 179.5 82 184.4 93 188.7 109 190.2 121 188.8 135 185.2 148 187.2 148 218 131.1 218 140.4 181.9 160 174 164.8 173 165 135.1 189 126.9 195 121.9 200 20.8 200 20.6 189 20 188 13 185 8.2 182 5.5 179 4.4 176 5.5 172 8 168.9 13 165.4 20.5 162 21.1 150 19 148.6 17 149.8 10 156.8 -2 170.2 -2 148.2 50.2 91ZM185 148.6 184.8 149 185 149Z" fill="#49468e"/><path d="M102.7 36 139.6 -2 150.1 -2 110.5 44 49 113 42.8 121 43 121.5 53 116.6 71 110.7 82.2 106 93.6 100 114 87.4 124 82.5 130 80.6 137 79.3 144 78.9 150 79.7 157 82.5 161 85.4 164 88.5 169 96.3 173.3 108 176.1 120 176.8 132 175.1 142 171.5 151 167.1 157 160.5 163 123 188 115 194.4 110.4 200 27.4 200 26.7 193 26.6 181 26 179.1 24.4 177 24 175 26.8 169 27.1 153 28.5 143 28.1 142 26.5 140 25 140.4 16 149.3 -2 168.9 -2 149.2 50.2 92ZM217.9 132 218 139.5 169 166.2 164 167.7 162 166.8 161.4 165 161.8 164 166 160.2Z" fill="#4b4c95"/><path d="M103.2 36 140.2 -2 149.6 -2 110.8 43 60.4 100 51 110 34 130 35 130.3 41.8 127 47 123.8 52 121.8 79 116.4 90 113.2 98 109.6 116.6 99 127 94.5 135 92.9 144 93.3 150.5 96 155.7 101 159 107 163.4 120 165.2 129 165.4 136 163.9 143 159.9 154 157.3 158 153 162.1 128 178.4 112 189.8 107.6 194 102.8 200 33 200 31.2 193 31 179 30 176 31.1 173 31.5 152 33.1 142 30.4 139 30.3 135 25 139.3 -2 168.3 -2 149.8 51.6 91ZM167 160.7 218 132.6 218 138.8 169 165.5 166 166.4 164 166 163.4 164Z" fill="#4e55a0"/><path d="M103.7 36 140.6 -2 149.2 -2 110.5 43 60.9 99 47 114 30.5 133 -2 167.8 -2 150.3 51 92ZM43 128.3 54 126.3 64 126.1 81 126.9 95.1 129 113 133 127.8 138 138.4 143 144.4 147 147.8 150 149 152.1 149 154.8 147.6 157 145.2 159 110 182.5 105 186.6 98.4 193 95 195 91 195.9 86 196.1 50 196.1 43 195.4 42.6 197 40 199.2 37 199.3 35 198 34.2 196 35 193.5 36 192.4 37.8 192 38.3 191 37.7 180 35.3 178 34.4 176 35.2 174 37.8 172 38.2 152 39.6 143 39.3 142 34.2 139 33.5 138 33.4 136 35.1 133 39 130.1ZM167.6 161 218 133.2 218 138.2 169 164.8 165.8 165 165.2 164 165.4 163Z" fill="#5468aa"/><path d="M104 36.1 141.1 -2 148.7 -2 110.1 43 66 92.3 60.6 99 -2 167.4 -2 150.6 51.3 92ZM52.1 128 64 127.8 74 129.3 80.6 132 82.7 134 83 136 80.6 139 76.4 141 70 142.6 62 143.4 54 143.2 46 142.1 40 140 37.3 138 36.8 137 36.9 135 39.5 132 45 129.4ZM217.8 134 218 137.4 217.1 138 168.5 164 167.7 164 167.1 163 167.7 162ZM52.6 170 62 169.8 70.7 171 76.2 173 77.5 174 78.5 176 77.3 178 73.5 180 67 181.5 60 182.1 53 181.9 47 181 41.3 179 38.9 177 38.8 175 41 173 46.4 171ZM36.4 194 38 193.3 40 193.8 40.9 195 40.6 197 39 198.1 37 197.9 35.6 196Z" fill="#5a8ac4"/><path d="M104 36.5 141.5 -2 148.3 -2 110 42.7 65.9 92 60.3 99 52.5 107 21.4 142 -2 167 -2 151 12.2 135 45 99.8 51.6 92 58.7 85ZM49.6 130 59 129.1 69.3 130 73.1 131 77 132.9 78.1 134 78.6 136 77.1 138 73.1 140 68 141.2 62 141.9 56 141.8 49.3 141 45 139.8 41.7 138 40.5 136 41.2 134 44 131.9ZM50.1 172 58 171.2 66 171.8 72 173.8 73.4 175 73.7 176 72.2 178 70 179 66 180 60 180.6 50 179.8 47 179 43.8 177 43.7 175 44.7 174Z" fill="#5ab4dd"/><path d="M104 36.8 142 -2 147.8 -2 110 42.2 65.6 92 60 99 53.1 106 21.1 142 -2 166.6 -2 151.4 12.4 135 45.2 100 51.8 92 58.2 86ZM56.4 131 62.3 131 68.3 132 72.4 134 73.1 136 71 138 68.3 139 59 140.1 50.3 139 47.7 138 45.7 136 46.4 134 47.9 133 51 131.9ZM53.9 174 58 173.6 63 174 65.7 175 66.3 176 65.4 177 62.3 178 54.8 178 51.7 177 50.9 176 51.5 175Z" fill="#70c0d2"/><path d="M104 37.3 142.8 -2 147.1 -2 110 41.8 65.2 92 59.8 99 52.7 106 20.9 142 13.8 149 -2 166.3 -2 151.8 12.7 135 19.8 128 45.6 100 52 92.1 59.5 85Z" fill="#79c1bd"/><path d="M141.6 1 142.5 1 140 5 109 42.5 65.7 91 59.6 99 52.3 106 20.6 142 13.4 149 -2 165.8 -2 152.2 12.1 136 19.2 129 43.2 103 52 92.4 59.9 85 104 37.7 134 7.8Z" fill="#79bfa7"/><path d="M129.6 14 130.7 14 129 17 109 42 65.3 91 59.3 99 51.9 106 20.4 142 13.1 149 -2 165.4 -2 152.6 8 141.6 12.3 136 19.6 129 45.5 101 52 92.6 59.4 86 105 37.2 120 22.5Z" fill="#7abc95"/><path d="M120.2 24 121.3 24 120.1 27 110 40.1 65.7 90 59.1 99 51.4 106 25 135.8 20.1 142 13.6 148 -2 164.9 -2 153.1 8 142 12.6 136 20 129 45.9 101 52 92.9 59.8 86 105 37.8 114 29.1Z" fill="#79ba81"/><path d="M112.8 32 114 31.8 114.1 33 109 40.3 64.3 91 59 98.8 51.8 105 25 135.3 20 141.8 13.1 148 -2 164.3 -2 153.7 8.5 142 12.8 136 20.5 129 45.6 102 52.2 93 59.5 87 105 38.6Z" fill="#75b769"/><path d="M88 57.9 106 40.1 106.2 41 105 42.9 100 49.1 63.6 91 59 98.5 51.1 105 25 134.6 20 141.5 12.5 148 -2 163.6 -2 154.4 8.2 143 13.1 136 20.1 130 45.3 103 53 92.4 60.3 87Z" fill="#70b44e"/><path d="M69.5 80 70.4 80 70.1 81 63 90.2 59 98.2 50.1 105 24.9 134 20 141.2 11.7 148 -2 162.6 -2 155.4 8.9 143 13.4 136 20.8 130 46.4 103 48.8 100 51.2 95 53 92.7 60.7 88Z" fill="#6fb342"/><path d="M56 91 59 90.3 60.3 91 60.9 93 60.1 96 58 99 56 100.4 53 101.7 51 101.8 50 100 51 96 53 93ZM20.9 131 37 116.1 37.3 117 33 123 24.7 133 19.8 141 18 142.7 11.4 147 -1 158.5 -1.5 158 -1.1 157 8.5 145 13.7 136Z" fill="#70b23c"/><path d="M54.8 92 57 91.2 59 91.8 60 93 60 95 59 97.3 57 99.4 55 100.5 53 100.7 51.1 99 51 97 52.5 94ZM16.9 134 20 133.1 21.9 134 22 136 21.3 138 20 140.3 18 142.4 15 144 13 144.3 11.5 143 12.1 139 14 136.1Z" fill="#75b33c"/><path d="M55.8 92 57.4 92 58.8 93 59.4 94 59.3 96 57 99.1 54 100 52 98.5 51.8 96 53 93.8ZM15.9 135 19 134.3 20.9 136 21 137 19 141.1 17 142.6 15 143.2 13 142.2 12.4 140 13.7 137Z" fill="#7bb53c"/><path d="M54.5 93 57 92.7 59 95 57.7 98 55 99.4 53 98.3 52.2 97 52.6 95ZM15.1 136 18 135.1 20.1 137 20 139 19 140.5 16 142.3 14.6 142 13.1 140 13.5 138Z" fill="#84b93c"/><path d="M53.8 94 56 93.1 58 94.6 58.3 96 57 98.1 55 98.6 53 97 53 95.3ZM16.4 136 18 136.3 19.4 138 19 139.7 18 140.9 16 141.5 14.1 140 13.8 139 14.7 137Z" fill="#93c03c"/><path d="M54.9 94 56 94 57.5 96 57.2 97 56 97.9 54.2 97 53.6 96 53.8 95ZM16 137 17 137 18.2 138 18 140 16 140.3 15 139.2 14.9 138Z" fill="#a7c93d"/></g></g><path d="M27.8 182.3 27.8 134.7 36.1 126.8 97.6 126.8 M27.8 158.5 180.8 158.5 M27.8 182.3 180.8 182.3 M97.6 182.3 97.6 59.4 120.7 35.7 180.8 35.7 180.8 182.3" fill="none" stroke="#1e1e28" stroke-width="1" stroke-dasharray="3 3.2"/><rect x="29.6" y="158.5" width="11.6" height="7.9" fill="#fff"/><text x="35.4" y="166.1" class="rl">I</text><rect x="168.3" y="159.4" width="11.1" height="7.2" fill="#fff"/><text x="173.9" y="166.3" class="rl" textLength="6.4" lengthAdjust="spacingAndGlyphs">II</text><rect x="84.4" y="129.4" width="11.1" height="7.4" fill="#fff"/><text x="90" y="136.5" class="rl" textLength="9" lengthAdjust="spacingAndGlyphs">III</text><rect x="167.2" y="39" width="11.6" height="7.7" fill="#fff"/><text x="173" y="46.4" class="rl" textLength="9.4" lengthAdjust="spacingAndGlyphs">IV</text><path d="M18.1 198.1v-2.5M36.1 198.1v-2.5M54.2 198.1v-2.5M72.3 198.1v-2.5M90.4 198.1v-2.5M108.5 198.1v-2.5M126.5 198.1v-2.5M144.6 198.1v-2.5M162.7 198.1v-2.5M180.8 198.1v-2.5M198.8 198.1v-2.5M0 158.5h2.5M0 118.9h2.5M0 79.2h2.5M0 39.6h2.5" stroke="#222" stroke-width="0.8" fill="none"/><rect x="0" y="0" width="216.9" height="198.1" fill="none" stroke="#1c1a3c" stroke-width="1"/></g><text x="390.3" y="672.4" class="tl" text-anchor="middle">250</text><text x="426.4" y="672.4" class="tl" text-anchor="middle">300</text><text x="462.6" y="672.4" class="tl" text-anchor="middle">350</text><text x="498.8" y="672.4" class="tl" text-anchor="middle">400</text><text x="534.9" y="672.4" class="tl" text-anchor="middle">450</text><text x="571" y="672.4" class="tl" text-anchor="middle">500</text><text x="607.2" y="672.4" class="tl" text-anchor="middle">550</text><text x="381.3" y="660.9" class="tl" text-anchor="end">200</text><text x="381.3" y="621.3" class="tl" text-anchor="end">250</text><text x="381.3" y="581.7" class="tl" text-anchor="end">300</text><text x="381.3" y="542" class="tl" text-anchor="end">350</text><text x="381.3" y="502.4" class="tl" text-anchor="end">400</text><text x="381.3" y="462.8" class="tl" text-anchor="end">450</text><text class="al" transform="translate(350.8 556.8) rotate(-90)" text-anchor="middle"><tspan font-weight="600">激发波长</tspan>/nm</text><g transform="translate(71.2 688)"><g clip-path="url(#c6)"><g filter="url(#sm)"><rect x="-3" y="-3" width="223.2" height="204.5" fill="#48428a"/><path d="M84 56 138.3 -2 152.6 -2 88 68 78.5 79 53 106 38 122.9 36.9 125 43 122.4 52 119.7 58 118.9 67 118.6 82 118.9 97 120.2 108 121.8 119 124.5 130 128 137 131 144 135.1 150 140 154.1 145 156.2 150 156.5 155 155 159.4 152 163.5 146.6 168 113 189.8 108 194.7 104.9 200 30.5 200 30.5 186 27.6 182 26.5 177 27.2 173 30.6 168 31 149 27.8 140 28 134 -2 164.9 -2 148.4 66 75.1 68.4 72ZM175 155.4 219 131.2 219 139.9 178 162.3 174 163.5 172 162.2 171 160 171.1 159Z" fill="#49468e"/><path d="M82 59 139.2 -2 151.7 -2 89 66 77.8 79 73 83.5 16.3 145 -2 163.6 -2 149.6 12.7 133 66 76.1 69.1 72ZM40 127.8 50 126.6 60 127.2 70 129 75 131 78 133 79.5 135 79.5 138 76.9 141 73.3 143 68 144.7 62 145.7 51 146.5 44 146.4 37 145.2 33 143.6 31 141.5 30.1 139 30.3 136 31.6 133 36 129.3ZM175 156.6 219 132.2 219 138.9 178 161.3 175 162 173.4 161 172.9 159ZM42.2 169 55 168.5 68 169.7 75 171.3 80 173.1 83.2 175 84.3 177 83 179.2 78 181.8 72 183.6 61 185.3 51 185.6 42 185.1 34 183.7 31 182.1 29.5 180 29 178 29.2 175 30.1 173 32 171.3 34 170.4ZM40.7 190 46 190.2 49 191.5 50.7 193 51.8 195 51.8 197 49.9 200 35.6 200 35 199.3 33.9 197 34.3 194 37 191.2Z" fill="#4b4c95"/><path d="M82 59.5 139.6 -2 151.1 -2 88 66.6 77.4 79 72 83.9 16 144.7 -2 162.6 -2 150.4 7.7 139 65 77.6 69.5 72ZM41.6 129 51 128.3 60 130.2 63.7 132 65.9 134 66.8 136 66.6 138 65.2 140 62.3 142 55 144.3 45 144.8 37 143.4 33 141 32 139 32 136 33 133.9 35 131.9 38 130.1ZM218.8 133 219 138.2 178 160.5 176 160.8 174.8 160 174.7 158 176 156.7ZM47.2 170 59 170.1 69 171.7 73 173 76 174.7 77.2 176 77.2 178 75.3 180 70 182.2 64 183.4 56 184.2 48 184.2 40 183.4 34.4 182 31.6 180 30.8 178 30.8 176 31.7 174 33 172.8 38 171.1ZM39.1 192 43 191.3 47 192.3 49.6 195 49.2 198 46.9 200 38 199.7 36.3 198 35.8 196 36.5 194Z" fill="#4e55a0"/><path d="M81 61 140.1 -2 150.7 -2 90 64 77 79 72 83.6 16 144.3 -2 161.6 -2 151.3 8.1 139 66 77 69.8 72ZM43.1 130 51 129.6 58 131.1 62.8 134 63.9 136 63.6 138 61.9 140 60 141.2 52 143.4 43 143.3 39 142.5 35.8 141 34.6 140 33.7 138 34.2 135 37.4 132ZM177.5 157 219 133.7 219 137.4 218 138 178.8 159 177 159.6 176.3 159 176 158ZM40.5 172 51 171 62 171.7 70.5 174 72.1 175 73.4 177 72.3 179 69 180.7 64 182.1 58 182.9 44 182.7 38 181.5 34.3 180 32.8 178 32.8 176 33.4 175 36 173.2ZM40.2 193 44 192.7 46.9 194 47.9 196 47.1 198 45 199.3 43 199.7 39 198.6 37.7 197 37.6 196 38.6 194Z" fill="#5468aa"/><path d="M82.3 60 140.4 -2 150.4 -2 88 65.8 77 78.8 72 83.2 15.9 144 -2 160.1 -2 152.3 8.5 139 66 77.4 70 72.1ZM44.9 131 51 130.9 57 132.4 60.6 135 61 136 60.7 138 59 139.7 56.4 141 50 142.3 43 142 39.4 141 37 139.6 35.7 137 37 134.3 40.8 132ZM42.4 173 51 172.2 60 172.7 67 174.6 69 176 69.4 177 68 179 65 180.3 60 181.4 54 181.9 41.8 181 38 179.8 35.7 178 35.7 176 36.7 175ZM41.9 194 45 194.6 45.9 196 45.6 197 43 198.3 41.1 198 40 197.2 39.6 196 40 195Z" fill="#5a8ac4"/><path d="M82.6 60 140.8 -2 150 -2 88 65.5 80 74.4 77 78.6 71.8 83 15.5 144 2 155.5 -1 156.7 -2 156 -1.7 154 0 151 9.7 138 66 77.8 70 72.3 73.9 69ZM42.7 133 48 132.2 53 132.8 57 134.8 57.9 137 56.3 139 53 140.3 48 141 43 140.4 39.7 139 38.4 137 39.3 135ZM45.6 174 52 173.5 58.7 174 62.4 175 64.2 176 64.7 177 64.3 178 62 179.2 54 180.6 44.9 180 40 178 39.6 177 40.2 176 41.9 175Z" fill="#5ab4dd"/><path d="M82 61 141.2 -2 149.6 -2 88 65.1 80 74.1 77 78.4 71.5 83 15.2 144 8 149.9 4 151.9 3 151.8 2.4 151 2.5 150 4.2 146 10 138 66.1 78 70 72.5 74 69.2ZM44.8 135 48 134.5 51 134.9 52.7 136 52.8 137 51.7 138 50 138.5 46 138.5 44.2 138 43.2 137 43.4 136Z" fill="#70c0d2"/><path d="M82.3 61 141.6 -2 149.2 -2 87.8 65 79.8 74 77 78.2 71.1 83 15 143.8 9 148.5 7 149.2 6 148.9 5 147.7 5 146 10 138.5 66.5 78 70 72.7 74 69.5Z" fill="#79c1bd"/><path d="M82.7 61 142 -2 148.8 -2 87.4 65 79 74.6 77 78 70.8 83 62.1 93 15 143.4 10 147.2 8 147.7 7 147.1 6.3 146 6.7 144 10 138.9 57 88 66.8 78 70 72.9 74 69.8Z" fill="#79bfa7"/><path d="M83.1 61 142.7 -2 148.2 -2 87.9 64 79 74.3 76.9 78 70.3 83 62 92.7 55.6 99 14.9 143 10 146.2 8 145.3 7.9 143 10.4 139 50.5 96 57 88.3 66.3 79 70 73 74.1 70Z" fill="#7abc95"/><path d="M106 37 143.6 -2 147.2 -2 87.4 64 79 73.9 76.7 78 70.8 82 62 92.4 54.1 100 14.3 143 11 144.7 9.5 144 9.2 142 10.9 139 51.9 95 57 88.7 66.8 79 70.2 73 74.5 70 83.6 61Z" fill="#79ba81"/><path d="M132 12 132 13.1 124 23 86.8 64 82.4 70 78.6 74 76.6 78 70.1 82 62 92 54.3 99 14 142.5 12 143.2 11 142.8 10.5 141 11 139.8 51.7 96 57 89 67.5 79 70.3 73 74.8 70 78 66.5 84.2 61 114 29.5Z" fill="#75b769"/><path d="M106 38.9 111.2 35 110.8 36 107 40.8 86.4 63 82 70 78.3 74 76.4 78 74 79.6 70 80.8 68.5 82 61 92.6 52.6 99 29 124.3 24 129.3 23.3 129 51.6 98 57.5 89 67.1 81 68.6 79 69.4 75 70.5 73 75 70.3 79 65.9 85.6 61Z" fill="#70b44e"/><path d="M81.7 65 83 65.3 83.3 66 82.8 68 81 70.6 78.4 73 76.3 78 73 79.6 70.3 79 69.6 78 69.4 76 70.6 73 72 71.8 75 70.7 79 66.4ZM59 88.1 62 86.8 63 87.6 62.9 89 62 90.7 59 93.6 58 94.1 56.5 94 55.9 93 57 90.3Z" fill="#6fb342"/><path d="M79 67 81 66.4 81.8 67 82 68 81 70 78 72.3 76.9 77 76 78.2 74 79.3 71 78.7 70 77.6 69.6 76 70.7 73 73 71.6 76 70.9ZM58.9 89 61 88.7 61.4 90 61 91.1 59 92.5 58 92.4 57.6 91Z" fill="#70b23c"/><path d="M78.6 69 80 68.3 80.3 69 79 70.1ZM72.4 72 75 71.6 76.9 73 77.2 74 76.8 77 76 78 74 79.1 72 78.9 70.1 77 69.8 76 70.2 74Z" fill="#75b33c"/><path d="M72.8 72 75 72.1 77 74.4 76.6 77 74 78.9 72 78.5 70 76 71 73Z" fill="#7bb53c"/><path d="M71.2 73 74 72.1 76 73.3 76.9 75 76 77.7 75 78.4 73 78.7 71 77.3 70.2 75Z" fill="#84b93c"/><path d="M71.4 73 74 72.3 76 73.7 76.7 76 75.4 78 73 78.5 71 76.9 70.3 75Z" fill="#93c03c"/><path d="M71.6 73 74 72.5 76 74.1 76.5 76 75 78.2 73 78.2 71 76.5 70.5 75Z" fill="#a7c93d"/><path d="M71.8 73 74 72.8 76 74.5 76.4 76 75 78 73 78 71 76.2 70.9 74Z" fill="#bed43f"/><path d="M72 73 74 73 76 74.9 76 76.8 75 77.8 73 77.8 71.1 76 71 74Z" fill="#d9de3f"/><path d="M72.6 73 74 73.2 75.8 75 76 76.2 75 77.6 73 77.5 71.4 76 71.2 74Z" fill="#e9e23c"/><path d="M71.4 74 73 73.1 74 73.5 75.6 75 75.5 77 74 77.7 73 77.3 71.6 76Z" fill="#f3a231"/><path d="M71.6 74 73 73.3 74.3 74 75.6 76 75.3 77 74 77.5 72.9 77 71.4 75Z" fill="#f08730"/><path d="M71.9 74 73 73.6 74 74 75.4 76 75.1 77 74 77.3 72.1 76 71.6 75Z" fill="#ed6f30"/><path d="M72.3 74 74 74.3 75 75.5 75 76.6 74 77.1 72.5 76 71.8 75Z" fill="#e95930"/><path d="M72.2 75 73 74.1 74.9 76 74 76.7Z" fill="#e5472e"/><path d="M72.7 75 73.8 75 74.3 76 73.5 76Z" fill="#e43e2c"/></g></g><path d="M27.9 182.6 27.9 135 36.2 127 97.7 127 M27.9 158.8 181 158.8 M27.9 182.6 181 182.6 M97.7 182.6 97.7 59.6 120.9 35.7 181 35.7 181 182.6" fill="none" stroke="#1e1e28" stroke-width="1" stroke-dasharray="3 3.2"/><rect x="29.7" y="158.8" width="11.6" height="7.9" fill="#fff"/><text x="35.5" y="166.4" class="rl">I</text><rect x="168.5" y="159.7" width="11.1" height="7.2" fill="#fff"/><text x="174.1" y="166.6" class="rl" textLength="6.4" lengthAdjust="spacingAndGlyphs">II</text><rect x="84.6" y="129.7" width="11.1" height="7.4" fill="#fff"/><text x="90.1" y="136.7" class="rl" textLength="9" lengthAdjust="spacingAndGlyphs">III</text><rect x="167.4" y="39.1" width="11.7" height="7.7" fill="#fff"/><text x="173.2" y="46.5" class="rl" textLength="9.4" lengthAdjust="spacingAndGlyphs">IV</text><path d="M18.1 198.5v-2.5M36.2 198.5v-2.5M54.3 198.5v-2.5M72.4 198.5v-2.5M90.5 198.5v-2.5M108.6 198.5v-2.5M126.7 198.5v-2.5M144.8 198.5v-2.5M162.9 198.5v-2.5M181 198.5v-2.5M199.1 198.5v-2.5M0 158.8h2.5M0 119.1h2.5M0 79.4h2.5M0 39.7h2.5" stroke="#222" stroke-width="0.8" fill="none"/><rect x="0" y="0" width="217.2" height="198.5" fill="none" stroke="#1c1a3c" stroke-width="1"/></g><text x="72" y="900.4" class="tl" text-anchor="middle">250</text><text x="108.2" y="900.4" class="tl" text-anchor="middle">300</text><text x="144.4" y="900.4" class="tl" text-anchor="middle">350</text><text x="180.6" y="900.4" class="tl" text-anchor="middle">400</text><text x="216.8" y="900.4" class="tl" text-anchor="middle">450</text><text x="253" y="900.4" class="tl" text-anchor="middle">500</text><text x="289.2" y="900.4" class="tl" text-anchor="middle">550</text><text x="64" y="888.9" class="tl" text-anchor="end">200</text><text x="64" y="849.2" class="tl" text-anchor="end">250</text><text x="64" y="809.5" class="tl" text-anchor="end">300</text><text x="64" y="769.8" class="tl" text-anchor="end">350</text><text x="64" y="730.1" class="tl" text-anchor="end">400</text><text x="64" y="690.4" class="tl" text-anchor="end">450</text><text class="al" transform="translate(38.2 784.5) rotate(-90)" text-anchor="middle"><tspan font-weight="600">激发波长</tspan>/nm</text><g transform="translate(389.5 688.1)"><g clip-path="url(#c7)"><g filter="url(#sm)"><rect x="-3" y="-3" width="222.9" height="204.3" fill="#48428a"/><path d="M20.4 122 135.2 -2 155 -2 87 74 74 89 70 94 69.9 95 103 72.4 113 66.6 124 61.4 133 58.5 142 57 151 56.9 159 58.3 165 60.7 170 63.5 174 66.4 178 70.3 181.6 75 185.3 81 188.7 88 191.3 95 194.5 108 194.8 119 192.5 135 188.5 146 190.1 146 218 130.5 218 141 172 166.5 168.1 168 132.2 191 125.4 196 121.2 200 20.2 200 19.3 182 17.7 180 16.8 177 17.2 175 19.4 171 20.3 150 19 150 16 152.7 -2 171.7 -2 147.1Z" fill="#49468e"/><path d="M104.3 32 136.3 -2 154.1 -2 69 93 56 108 51.8 114 55 113 74.9 103 109 82.5 124 74.8 132 71.9 140 70.2 148 69.8 154 70.6 162 74 166 77 169 80 175 89.3 179.9 102 182 113 181.7 125 179.9 136 176.2 145 173.1 150 169.8 154 157.3 166 119.8 190 113.7 195 109.3 200 28 200 25.7 193 25.2 180 24.4 177 25.3 173 25.9 151 27.7 141 27 140.9 26 141.7 21 146.3 -2 170.4 -2 148.3 21.4 122ZM167 159.5 218 131.4 218 140.2 172 165.3 167 167 165 166.7 164.3 166 163.5 163Z" fill="#4b4c95"/><path d="M105.7 31 136.8 -2 153.6 -2 56 107 46 119 44 122.2 45 122.2 55 117.5 73 112.5 81 109.6 94 103.4 113 93 125 87.6 134 85.5 144 85.7 150.4 88 156 92.5 160 98 163.9 107 167.2 118 169 129 168.4 136 165.5 144 156.1 160 152.5 164 116 187 104 196.9 100 199.3 98.2 200 37.1 200 35 199.1 32.3 197 30.4 194 29.5 191 29 186 28.8 176 29.7 151 30.9 143 33.3 136 33 134.1 23 143.5 -2 169.6 -2 149.1 38.6 104ZM169.1 159 218 132.1 218 139.6 172 164.7 167 166 165.4 165 165 163 165.5 162Z" fill="#4e55a0"/><path d="M105.2 32 137.3 -2 153.1 -2 60 102 37.6 128 -2 168.9 -2 149.7 22.4 122ZM67.6 120 77 120 90 122.4 101 125.6 118 132.2 138 142.6 147 148.3 149.8 151 150.9 153 151.4 155 150.9 158 147.8 162 137 169 133 173.5 122.3 178 111 185.2 101.2 193 97 194.9 89 195.7 48 195.8 41 195.4 37 194.2 34.6 192 33.3 189 32.8 179 32.2 176 33 173 33.7 149 36.9 134 41 129.3 45 126.3 49.1 124 57 121.5ZM169.9 159 218 132.5 218 139.1 172 164.2 168 165.1 166.6 164 166.6 162Z" fill="#5468aa"/><path d="M105.4 32 137.7 -2 152.7 -2 36.8 128 -2 168.2 -1.7 150 14.7 131 35.7 108ZM56.4 126 63 125.8 69 126.4 76 128.4 81.2 132 82.8 134 83 137 82 138 82 139 79 142 76 143 75 144 73 144 72 145 68 145 67 146 55 146 54 145.9 53.2 145 50 145 49.1 144 47 143.9 46.2 143 45 142.8 40.3 139 39.4 137 39.4 135 40.3 133 42.2 131 48 127.8ZM218 133 218 138.6 172 163.7 169 164.2 168 163.3 167.7 162 170 159.5ZM65 161 66 160 97 160 98 161 115 161 116 162 123 162.2 123.7 163 127 163.3 131.9 166 133 167.6 133.1 169 132.1 171 129.2 173 117.7 177 100 180.8 95.8 181 95 181.8 89.3 182 88 182.9 82.3 183 81 183.8 69.5 184 67 184.9 52 184.7 51 184 47 183.9 45.3 183 43 182.8 38 180.2 35.7 178 35.1 176 35.7 174 38 171.7 41 169.6 47.1 167 51 164 53 164 54 163 56 163 57 162 60 162 61 161Z" fill="#5a8ac4"/><path d="M105.7 32 138.1 -2 152.3 -2 133 19.4 115.4 40 35.4 129 -2 167.5 -2 151 -0.4 149 19.5 126ZM53.2 128 63 127.3 72.1 129 76 130.8 78 132.5 79.3 135 79.1 137 77.8 139 75 141 67 143.5 58 143.9 49 142.1 43.8 139 42.5 137 42.5 135 43.4 133 45.6 131 49 129.2ZM170.2 160 218 133.6 218 138.1 172.2 163 171 163.4 169.6 163 169.1 162 169.2 161ZM66 164 73 163.5 87 163.4 113 164.7 123 166.1 126 167.3 127.2 169 126 170.4 123.1 172 113.4 175 86 179.4 76 182.1 68 183.2 57 183.4 48 182.4 41 180 38 177 37.9 175 39.2 173 43.9 170 55 166.3Z" fill="#5ab4dd"/><path d="M106 32 138.4 -2 151.9 -2 133 19.1 115.2 40 35.9 128 -2 166.9 -2 151.6 2.5 146 21.7 124ZM57.8 129 65 129.1 71.7 131 75.3 134 75.5 137 73.8 139 70 141 62 142.4 53 141.4 49.2 140 46.7 138 45.9 135 48 132.2 52.5 130ZM183 154 218 134.4 218 137.3 216.8 138 181.1 157 173.1 161 171.6 161ZM59 167 71 166.4 82 167.7 88 170.3 89.5 172 89.7 174 87.1 177 82 179.5 75 181.4 66 182.5 57 182.6 49 181.5 44 179.8 40.6 177 40.4 176 40.9 174 44.7 171 51 168.6Z" fill="#70c0d2"/><path d="M106.2 32 138.8 -2 151.6 -2 132.7 19 115.8 39 35.6 128 -2 166.2 -2 152.2 5.4 143 23.8 122ZM59.2 131 64 131.2 69 132.8 71.1 135 70.7 137 67 139.4 61 140.3 55 139.5 52 138.2 50.8 137 50.5 135 52.2 133 55 131.8ZM58.2 168 69 167.2 78.2 168 85 170.3 86.8 172 87.1 174 84.4 177 80.2 179 73 180.8 66 181.7 59 181.8 51.9 181 46 179.2 43.3 177 43 175 45.7 172 51 169.7Z" fill="#79c1bd"/><path d="M106.4 32 139.1 -2 151.3 -2 132.4 19 115.6 39 34.3 129 -2 165.6 -2 152.8 8.3 140 23.2 123ZM57.8 169 68 168.1 77 168.9 82.8 171 83.9 172 84.4 174 83 176 79 178.2 72.3 180 66 180.8 59 180.8 53 180.1 49.2 179 46.2 177 45.7 175 48 172.4 52 170.5Z" fill="#79bfa7"/><path d="M106.6 32 139.5 -2 150.9 -2 132 19.1 115.4 39 105 50 34.9 128 20 143.5 -2 165 -2 153.4 12.9 135ZM58.2 170 66 169.1 74 169.6 79.1 171 80.6 172 81.4 174 79.9 176 77 177.5 72 179 67 179.7 61 179.9 56 179.4 52 178.4 49.5 177 48.7 175 50.2 173 54 171.1Z" fill="#7abc95"/><path d="M125.8 13 139.8 -2 150.6 -2 132 18.8 115.2 39 105 49.7 34.6 128 19 144.2 -2 164.4 -2 154.1 13.2 135 106.8 32ZM59.8 171 66 170.3 72 170.7 76.4 172 77.5 173 77.8 174 76.1 176 74 177 66 178.6 57 178.1 53.8 177 52.6 176 52.4 175 52.8 174 54.1 173Z" fill="#79ba81"/><path d="M126 13.1 140.1 -2 150.2 -2 132 18.4 115 39 105 49.5 34.3 128 17 145.8 -2 163.7 -2 154.8 13.5 135 107 32ZM61.1 173 68 172.5 70.4 173 71.6 174 71.1 175 69 176 62 176.5 59.7 176 58.6 175 59 174Z" fill="#75b769"/><path d="M126 13.4 140.5 -2 149.9 -2 132 18.1 114.9 39 105.2 49 33.9 128 16 146.4 -2 163 -2 155.5 4.9 146 16.4 132 99 41.6 107 32.2Z" fill="#70b44e"/><path d="M126 13.7 140.8 -2 149.6 -2 131.8 18 114.7 39 105 49 33.7 128 14 148 -2 162.1 -2 156.5 -1.1 155 6.8 144 19.3 129 99 41.8 107 32.4Z" fill="#6fb342"/><path d="M126.1 14 141.2 -2 149.2 -2 131.5 18 114.5 39 104.7 49 33 128.4 12 149.5 -2 161 -2 158 2 151 10.3 140 20.4 128 99 42.1 107 32.6Z" fill="#70b23c"/><path d="M126.4 14 141.5 -2 148.9 -2 131.2 18 114.3 39 105 48.5 33 128.1 11 150 4 155.8 0 158 -0.6 157 0.1 155 3.8 149 20.7 128 99 42.3 107 32.8Z" fill="#75b33c"/><path d="M126.7 14 141.9 -2 148.5 -2 131 17.8 114.1 39 105.2 48 32.8 128 20 141.1 11 149.6 4 155.2 1 156.2 0.9 155 1.8 153 5.7 147 14.2 136 24.5 124 99 42.6 107 33Z" fill="#7bb53c"/><path d="M127.1 14 142.3 -2 148.1 -2 131 17.4 114 39 105 48 32.5 128 13 147.4 6 153.2 3 154.7 2.3 154 3 152 6.1 147 14 136.6 24.8 124 99 42.8 107.2 33Z" fill="#84b93c"/><path d="M127.5 14 142.7 -2 147.7 -2 131 17.1 114 38.8 104.7 48 32.2 128 13 147 7 151.8 5 153 3.9 153 4.7 150 9.4 143 26 123 99.1 43 107.3 33Z" fill="#93c03c"/><path d="M127 14.8 143.2 -2 147.2 -2 130.7 17 114 38.6 104.5 48 27 133.2 11 148.2 7 151.1 6 151.5 5.2 151 7 147 14.3 137 37.9 110 99.3 43 107.5 33Z" fill="#a7c93d"/><path d="M127.2 15 143.8 -2 146.5 -2 130.3 17 114 38.4 104.3 48 27 132.8 14 145.2 9 149.1 7 150 6.7 149 8.2 146 14.6 137 38.2 110 99.5 43 108 32.7Z" fill="#bed43f"/><path d="M127.8 15 142.4 1 142.1 2 130 16.8 113.2 39 105 47 27 132.5 15 143.9 10 147.7 8.2 148 8.8 146 12 141 22 128.5 68.3 77 100 42.7 107.9 33Z" fill="#d9de3f"/><path d="M133.7 10 134.7 10 113.1 39 104.7 47 30 129.1 18 140.9 13 145 10 146.5 10 145 13.1 140 22 128.8 68.6 77 100 43 108 33.1Z" fill="#e9e23c"/><path d="M108 33.2 128 16.1 128.6 17 113.8 38 104.5 47 31 127.7 18 140.5 12 144.8 11.4 144 11.8 143 15.7 137 23 128 33 117.3 39 110 99.3 44Z" fill="#f3a231"/><path d="M123 20.4 127.1 18 126.8 19 125 22 113 38.7 104.2 47 30 128.4 18 140.1 14 142.9 13 143.1 13 142 16 137.1 25 126 69 77 100 43.5 108 33.4Z" fill="#f08730"/><path d="M124.6 20 125.3 20 125.1 21 123.9 23 113 38.5 104 47 73 81.5 42 115.2 36 121 30 128.1 18 139.5 16 141 14.6 141 15.8 138 18 135 27 124.1 33 118 38.6 111 69 77.3 100.7 43 108 33.6Z" fill="#ed6f30"/><path d="M122.7 22 123.5 22 122.1 25 113 38.3 103.7 47 73 81.2 42 114.9 36.5 120 30 127.7 19 138.1 17 139.5 16 139 20 133 27 124.5 33.4 118 38.9 111 69 77.6 100.1 44 108 33.8Z" fill="#e95930"/><path d="M120.7 24 121.9 24 113 38.1 103.4 47 73 80.9 42 114.5 36.1 120 30 127.3 22 135 19 137.2 18 137 21.9 131 27 124.9 33.9 118 39 111.3 69 77.9 100.4 44 108 34Z" fill="#e5472e"/><path d="M111 31.4 120 25.5 120.2 26 115.8 34 113 37.9 103.1 47 43 113.1 35.4 120 31 125.8 25 131.8 21 134.8 20.7 134 21.8 132 28 124.2 33.6 119 40 110.5 69.2 78 100.7 44 108.2 34Z" fill="#e43e2c"/><path d="M111 31.6 118 27 118.6 28 115.6 34 113 37.7 102.8 47 73 80.3 41 114.8 37 118 36 118.5 35.3 118 39 112 69.5 78 99.2 46 108.4 34ZM31 121.7 34.3 120 32 124.1 25 131.1 23 132.3 23.8 130 28 124.7Z" fill="#e3362a"/><path d="M108.6 34 117 28.2 117.7 29 116 33 113 37.5 102.4 47 79.6 72 73 80 42 113.3 39 116.1 36.9 117 37.3 115 40 111.4 61.3 88 69.8 78 78.6 69 100.5 45ZM31.7 122 32.3 122 32.1 123 31 124.5 27 128.2 26.5 128 29 124.3Z" fill="#e3362a"/></g></g><path d="M27.8 182.4 27.8 134.8 36.1 126.9 97.6 126.9 M27.8 158.6 180.8 158.6 M27.8 182.4 180.8 182.4 M97.6 182.4 97.6 59.5 120.7 35.7 180.8 35.7 180.8 182.4" fill="none" stroke="#1e1e28" stroke-width="1" stroke-dasharray="3 3.2"/><rect x="29.6" y="158.6" width="11.6" height="7.9" fill="#fff"/><text x="35.4" y="166.3" class="rl">I</text><rect x="168.3" y="159.5" width="11.1" height="7.2" fill="#fff"/><text x="173.9" y="166.4" class="rl" textLength="6.4" lengthAdjust="spacingAndGlyphs">II</text><rect x="84.4" y="129.5" width="11.1" height="7.4" fill="#fff"/><text x="90" y="136.6" class="rl" textLength="9" lengthAdjust="spacingAndGlyphs">III</text><rect x="167.2" y="39" width="11.6" height="7.7" fill="#fff"/><text x="173" y="46.4" class="rl" textLength="9.4" lengthAdjust="spacingAndGlyphs">IV</text><path d="M18.1 198.3v-2.5M36.1 198.3v-2.5M54.2 198.3v-2.5M72.3 198.3v-2.5M90.4 198.3v-2.5M108.5 198.3v-2.5M126.5 198.3v-2.5M144.6 198.3v-2.5M162.7 198.3v-2.5M180.8 198.3v-2.5M198.8 198.3v-2.5M0 158.6h2.5M0 119h2.5M0 79.3h2.5M0 39.7h2.5" stroke="#222" stroke-width="0.8" fill="none"/><rect x="0" y="0" width="216.9" height="198.3" fill="none" stroke="#1c1a3c" stroke-width="1"/></g><text x="390.3" y="900.3" class="tl" text-anchor="middle">250</text><text x="426.4" y="900.3" class="tl" text-anchor="middle">300</text><text x="462.6" y="900.3" class="tl" text-anchor="middle">350</text><text x="498.8" y="900.3" class="tl" text-anchor="middle">400</text><text x="534.9" y="900.3" class="tl" text-anchor="middle">450</text><text x="571" y="900.3" class="tl" text-anchor="middle">500</text><text x="607.2" y="900.3" class="tl" text-anchor="middle">550</text><text x="381.3" y="888.8" class="tl" text-anchor="end">200</text><text x="381.3" y="849.1" class="tl" text-anchor="end">250</text><text x="381.3" y="809.5" class="tl" text-anchor="end">300</text><text x="381.3" y="769.8" class="tl" text-anchor="end">350</text><text x="381.3" y="730.2" class="tl" text-anchor="end">400</text><text x="381.3" y="690.5" class="tl" text-anchor="end">450</text><text class="al" transform="translate(350.8 784.5) rotate(-90)" text-anchor="middle"><tspan font-weight="600">激发波长</tspan>/nm</text><rect x="619.1" y="317.5" width="26.6" height="287.3" fill="url(#cbg)" stroke="#6a6a70" stroke-width="0.8"/><text x="650" y="324.3" class="cl">600</text><text x="650" y="360.2" class="cl">525</text><text x="650" y="396" class="cl">450</text><text x="650" y="431.9" class="cl">375</text><text x="650" y="467.7" class="cl">300</text><text x="650" y="503.6" class="cl">225</text><text x="650" y="539.5" class="cl">150</text><text x="650" y="575.3" class="cl">75</text><text x="650" y="611.2" class="cl">0</text><text x="183" y="916.2" class="xl" text-anchor="middle"><tspan font-weight="600">发射波长</tspan>/nm</text><text x="500.4" y="916.2" class="xl" text-anchor="middle"><tspan font-weight="600">发射波长</tspan>/nm</text></svg></body></html>
